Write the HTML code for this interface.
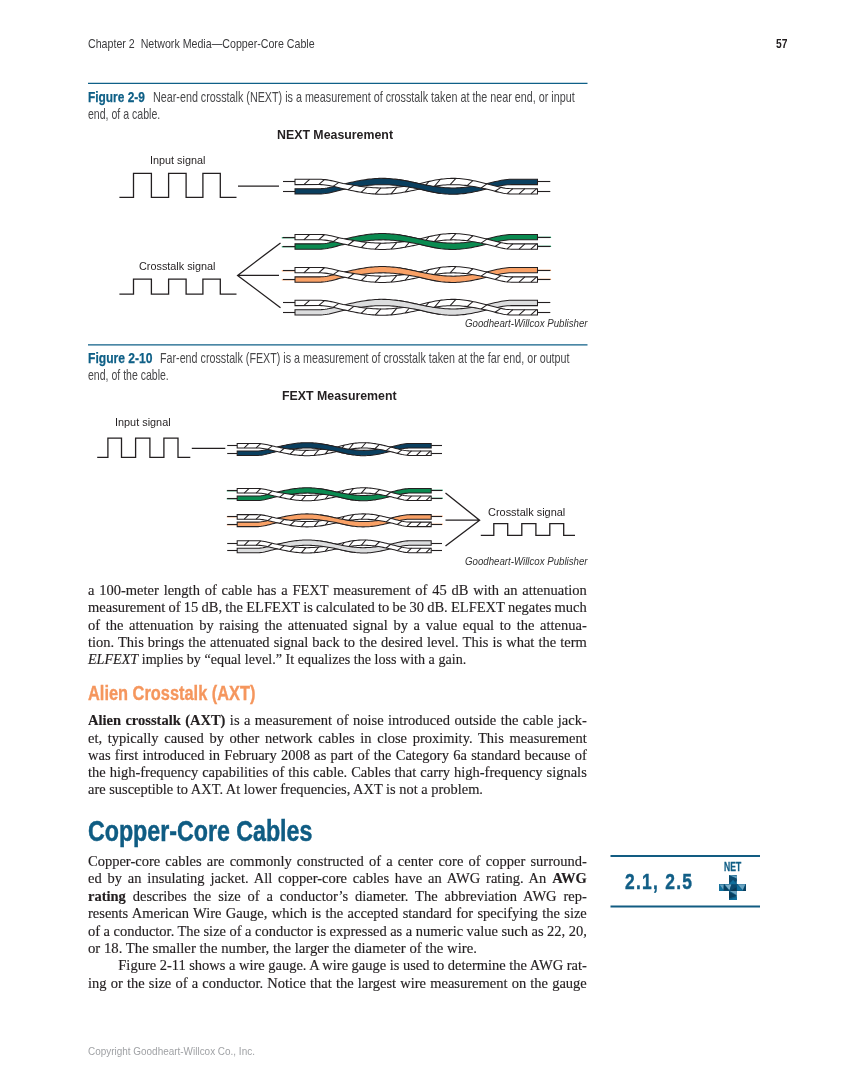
<!DOCTYPE html>
<html lang="en"><head><meta charset="utf-8"><title>Chapter 2 Network Media—Copper-Core Cable</title>
<style>
html,body{margin:0;padding:0;background:#fff}
#txt{position:absolute;left:0;top:0;width:849px;height:1087px;opacity:0.999;will-change:opacity}
#page{position:relative;width:849px;height:1087px;overflow:hidden;background:#fff}
.ln{position:absolute;white-space:nowrap;transform-origin:0 0;line-height:1;font-family:"Liberation Sans",sans-serif;color:#3a3a3c}
.hdr{font-size:12.8px;color:#3a3a3c}
.pg{font-size:12.6px;font-weight:bold;color:#231f20}
.cap{font-size:14.8px;color:#48484a}
.cap b{color:#0e5f86;-webkit-text-stroke:0.25px #0e5f86}
.ttl{font-size:12.6px;font-weight:bold;color:#231f20}
.lbl{font-size:11px;color:#231f20}
.cred{font-size:10px;font-style:italic;color:#333}
.body{font-family:"Liberation Serif",serif;font-size:14.5px;color:#231f20;-webkit-text-stroke:0.15px #231f20}
.h3{font-size:19.6px;font-weight:bold;color:#f5965d;-webkit-text-stroke:0.35px #f5965d}
.h2{font-size:29.5px;font-weight:bold;color:#0f5c83;-webkit-text-stroke:0.5px #0f5c83}
.std{font-size:22px;font-weight:bold;color:#115e86;letter-spacing:1.6px;-webkit-text-stroke:0.45px #115e86}
.net{font-size:12px;font-weight:bold;color:#115e86;-webkit-text-stroke:0.3px #115e86}
.copy{font-size:10px;color:#a0a2a5}
</style></head>
<body><div id="page">
<svg width="849" height="1087" viewBox="0 0 849 1087" style="position:absolute;left:0;top:0">
<path d="M119.4,197.3 H133.5 V173.3 H151.4 V197.3 H168.6 V173.3 H186.1 V197.3 H202.9 V173.3 H220.3 V197.3 H236.5" fill="none" stroke="#231f20" stroke-width="1.3" stroke-linejoin="miter"/>
<path d="M119.4,294.2 H133.5 V279.2 H151.4 V294.2 H168.6 V279.2 H186.1 V294.2 H202.9 V279.2 H220.3 V294.2 H236.5" fill="none" stroke="#231f20" stroke-width="1.3" stroke-linejoin="miter"/>
<path d="M238,186.1 H279" stroke="#231f20" stroke-width="1.3" fill="none"/>
<path d="M280.5,242.9 L237.6,275.4 L280.5,307.8 M237.6,275.4 H279" stroke="#231f20" stroke-width="1.3" fill="none" stroke-linejoin="miter"/>
<line x1="283.00" y1="181.50" x2="295.00" y2="181.50" stroke="#231f20" stroke-width="1.1"/>
<line x1="283.00" y1="191.50" x2="295.00" y2="191.50" stroke="#231f20" stroke-width="1.1"/>
<line x1="537.50" y1="181.50" x2="550.30" y2="181.50" stroke="#231f20" stroke-width="1.1"/>
<line x1="537.50" y1="191.50" x2="550.30" y2="191.50" stroke="#231f20" stroke-width="1.1"/>
<polygon points="295.0,188.65 320.0,188.65 321.1,188.63 323.1,188.51 325.1,188.29 327.1,187.98 329.1,187.60 331.1,187.15 333.1,186.67 335.1,186.16 337.1,185.63 339.1,185.11 341.1,184.60 343.1,184.12 345.1,183.68 347.1,183.23 349.1,182.78 351.1,182.33 353.1,181.90 355.1,181.48 357.1,181.08 359.1,180.69 361.1,180.33 363.1,179.99 365.1,179.68 367.1,179.39 369.2,179.14 371.2,178.92 373.2,178.73 375.2,178.58 377.2,178.47 379.2,178.39 381.2,178.35 383.2,178.35 385.2,178.39 387.2,178.47 389.2,178.58 391.2,178.73 393.2,178.92 395.2,179.14 397.2,179.39 399.2,179.67 401.2,179.98 403.2,180.32 405.2,180.68 407.2,181.07 409.2,181.47 411.2,181.89 413.2,182.33 415.2,182.77 417.3,183.22 419.3,183.67 421.3,184.08 423.3,184.47 425.3,184.86 427.3,185.24 429.3,185.60 431.3,185.95 433.3,186.27 435.3,186.58 437.3,186.86 439.3,187.11 441.3,187.33 443.3,187.52 445.3,187.68 447.3,187.80 449.3,187.89 451.3,187.94 453.3,187.95 455.3,187.92 457.3,187.86 459.3,187.76 461.3,187.63 463.3,187.46 465.4,187.25 467.4,187.02 469.4,186.76 471.4,186.47 473.4,186.15 475.4,185.82 477.4,185.46 479.4,185.09 481.4,184.71 483.4,184.32 485.4,183.93 487.4,183.50 489.4,183.04 491.4,182.56 493.4,182.08 495.4,181.60 497.4,181.15 499.4,180.72 501.4,180.33 503.4,179.99 505.4,179.70 507.4,179.49 509.4,179.35 511.4,179.30 511.5,179.30 537.5,179.30 537.5,184.60 511.5,184.60 511.4,184.60 509.4,184.65 507.4,184.79 505.4,185.00 503.4,185.29 501.4,185.63 499.4,186.02 497.4,186.45 495.4,186.90 493.4,187.38 491.4,187.86 489.4,188.34 487.4,188.80 485.4,189.27 483.4,189.76 481.4,190.24 479.4,190.71 477.4,191.17 475.4,191.61 473.4,192.03 471.4,192.41 469.4,192.77 467.4,193.10 465.4,193.39 463.3,193.64 461.3,193.85 459.3,194.02 457.3,194.14 455.3,194.22 453.3,194.25 451.3,194.23 449.3,194.17 447.3,194.07 445.3,193.92 443.3,193.72 441.3,193.49 439.3,193.21 437.3,192.90 435.3,192.55 433.3,192.17 431.3,191.77 429.3,191.34 427.3,190.89 425.3,190.42 423.3,189.94 421.3,189.46 419.3,188.99 417.3,188.62 415.2,188.25 413.2,187.89 411.2,187.54 409.2,187.19 407.2,186.87 405.2,186.55 403.2,186.26 401.2,185.98 399.2,185.73 397.2,185.50 395.2,185.29 393.2,185.11 391.2,184.96 389.2,184.84 387.2,184.75 385.2,184.68 383.2,184.65 381.2,184.65 379.2,184.69 377.2,184.75 375.2,184.84 373.2,184.96 371.2,185.11 369.2,185.29 367.1,185.50 365.1,185.73 363.1,185.99 361.1,186.26 359.1,186.56 357.1,186.87 355.1,187.20 353.1,187.54 351.1,187.90 349.1,188.26 347.1,188.62 345.1,188.99 343.1,189.42 341.1,189.90 339.1,190.41 337.1,190.93 335.1,191.46 333.1,191.97 331.1,192.45 329.1,192.90 327.1,193.28 325.1,193.59 323.1,193.81 321.1,193.93 320.0,193.95 295.0,193.95" fill="#0a3f5f" stroke="#231f20" stroke-width="1.05" stroke-linejoin="miter"/>
<polygon points="295.0,179.30 320.0,179.30 321.1,179.31 323.1,179.42 325.1,179.62 327.1,179.89 329.1,180.23 331.1,180.63 333.1,181.06 335.1,181.53 337.1,182.00 339.1,182.48 341.1,182.95 343.1,183.40 345.1,183.80 347.1,184.16 349.1,184.51 351.1,184.85 353.1,185.19 355.1,185.51 357.1,185.83 359.1,186.13 361.1,186.41 363.1,186.67 365.1,186.92 367.1,187.14 369.2,187.34 371.2,187.51 373.2,187.65 375.2,187.77 377.2,187.86 379.2,187.92 381.2,187.95 383.2,187.95 385.2,187.92 387.2,187.86 389.2,187.77 391.2,187.65 393.2,187.51 395.2,187.34 397.2,187.14 399.2,186.92 401.2,186.68 403.2,186.42 405.2,186.13 407.2,185.84 409.2,185.52 411.2,185.19 413.2,184.86 415.2,184.51 417.3,184.16 419.3,183.81 421.3,183.33 423.3,182.82 425.3,182.33 427.3,181.84 429.3,181.37 431.3,180.93 433.3,180.51 435.3,180.11 437.3,179.75 439.3,179.43 441.3,179.14 443.3,178.90 445.3,178.70 447.3,178.54 449.3,178.43 451.3,178.37 453.3,178.35 455.3,178.38 457.3,178.46 459.3,178.59 461.3,178.77 463.3,178.98 465.4,179.25 467.4,179.55 469.4,179.88 471.4,180.26 473.4,180.66 475.4,181.09 477.4,181.55 479.4,182.02 481.4,182.51 483.4,183.01 485.4,183.52 487.4,184.01 489.4,184.50 491.4,185.02 493.4,185.55 495.4,186.07 497.4,186.57 499.4,187.05 501.4,187.48 503.4,187.87 505.4,188.19 507.4,188.44 509.4,188.59 511.4,188.65 511.5,188.65 537.5,188.65 537.5,193.95 511.5,193.95 511.4,193.95 509.4,193.89 507.4,193.74 505.4,193.49 503.4,193.17 501.4,192.78 499.4,192.35 497.4,191.87 495.4,191.37 493.4,190.85 491.4,190.32 489.4,189.80 487.4,189.31 485.4,188.86 483.4,188.45 481.4,188.04 479.4,187.64 477.4,187.25 475.4,186.88 473.4,186.53 471.4,186.20 469.4,185.90 467.4,185.62 465.4,185.38 463.3,185.17 461.3,184.99 459.3,184.85 457.3,184.74 455.3,184.68 453.3,184.65 451.3,184.66 449.3,184.71 447.3,184.80 445.3,184.93 443.3,185.10 441.3,185.30 439.3,185.53 437.3,185.79 435.3,186.09 433.3,186.41 431.3,186.75 429.3,187.11 427.3,187.49 425.3,187.89 423.3,188.29 421.3,188.71 419.3,189.13 417.3,189.56 415.2,190.00 413.2,190.42 411.2,190.84 409.2,191.24 407.2,191.63 405.2,192.00 403.2,192.35 401.2,192.68 399.2,192.98 397.2,193.25 395.2,193.49 393.2,193.70 391.2,193.88 389.2,194.03 387.2,194.14 385.2,194.21 383.2,194.25 381.2,194.25 379.2,194.21 377.2,194.13 375.2,194.02 373.2,193.88 371.2,193.70 369.2,193.49 367.1,193.25 365.1,192.97 363.1,192.67 361.1,192.34 359.1,191.99 357.1,191.62 355.1,191.23 353.1,190.83 351.1,190.41 349.1,189.99 347.1,189.55 345.1,189.12 343.1,188.70 341.1,188.25 339.1,187.78 337.1,187.30 335.1,186.83 333.1,186.36 331.1,185.93 329.1,185.53 327.1,185.19 325.1,184.92 323.1,184.72 321.1,184.61 320.0,184.60 295.0,184.60" fill="#fff" stroke="#231f20" stroke-width="1.05" stroke-linejoin="miter"/>
<path d="M303.8,184.60L309.6,179.30M318.6,184.60L324.4,179.54M333.1,186.37L338.9,182.44M348.1,189.77L353.9,185.32M361.1,192.34L366.9,187.11M375.1,194.02L380.9,187.94M391.1,193.89L396.9,187.17M405.1,192.02L410.9,185.25M423.1,188.33L428.9,181.46M434.6,186.19L440.4,179.27M450.1,184.69L455.9,178.40M467.1,185.59L472.9,180.56M481.1,187.98L486.9,183.89M495.1,191.29L500.9,187.37M507.1,193.70L512.9,188.65M519.1,193.95L524.9,188.65M530.9,193.95L536.7,188.65" stroke="#231f20" stroke-width="1.05" fill="none"/>
<polygon points="398.6,179.58 400.6,179.88 402.6,180.21 404.6,180.57 406.6,180.95 408.6,181.34 410.6,181.76 412.6,182.19 414.6,182.62 416.6,183.07 418.6,183.52 420.6,183.95 422.6,184.34 424.6,184.73 426.6,185.11 428.6,185.48 430.6,185.83 432.6,186.16 434.6,186.48 436.6,186.76 438.6,187.03 440.6,187.26 440.6,193.39 438.6,193.11 436.6,192.78 434.6,192.43 432.6,192.04 430.6,191.63 428.6,191.19 426.6,190.73 424.6,190.26 422.6,189.78 420.6,189.29 418.6,188.87 416.6,188.50 414.6,188.13 412.6,187.77 410.6,187.43 408.6,187.09 406.6,186.77 404.6,186.46 402.6,186.17 400.6,185.90 398.6,185.65" fill="#0a3f5f"/>
<polyline points="398.6,179.58 400.6,179.88 402.6,180.21 404.6,180.57 406.6,180.95 408.6,181.34 410.6,181.76 412.6,182.19 414.6,182.62 416.6,183.07 418.6,183.52 420.6,183.95 422.6,184.34 424.6,184.73 426.6,185.11 428.6,185.48 430.6,185.83 432.6,186.16 434.6,186.48 436.6,186.76 438.6,187.03 440.6,187.26" fill="none" stroke="#231f20" stroke-width="1.05"/>
<polyline points="398.6,185.65 400.6,185.90 402.6,186.17 404.6,186.46 406.6,186.77 408.6,187.09 410.6,187.43 412.6,187.77 414.6,188.13 416.6,188.50 418.6,188.87 420.6,189.29 422.6,189.78 424.6,190.26 426.6,190.73 428.6,191.19 430.6,191.63 432.6,192.04 434.6,192.43 436.6,192.78 438.6,193.11 440.6,193.39" fill="none" stroke="#231f20" stroke-width="1.05"/>
<line x1="281.80" y1="237.75" x2="295.00" y2="237.75" stroke="#0a8a50" stroke-width="1.2"/>
<line x1="283.00" y1="237.50" x2="295.00" y2="237.50" stroke="#231f20" stroke-width="1.1"/>
<line x1="281.80" y1="246.75" x2="295.00" y2="246.75" stroke="#0a8a50" stroke-width="1.2"/>
<line x1="283.00" y1="246.50" x2="295.00" y2="246.50" stroke="#231f20" stroke-width="1.1"/>
<line x1="537.50" y1="237.30" x2="551.10" y2="237.30" stroke="#0a8a50" stroke-width="1.2"/>
<line x1="537.50" y1="237.50" x2="550.30" y2="237.50" stroke="#231f20" stroke-width="1.1"/>
<line x1="537.50" y1="246.30" x2="551.10" y2="246.30" stroke="#0a8a50" stroke-width="1.2"/>
<line x1="537.50" y1="246.50" x2="550.30" y2="246.50" stroke="#231f20" stroke-width="1.1"/>
<polygon points="295.0,243.85 320.0,243.85 321.1,243.83 323.1,243.71 325.1,243.49 327.1,243.18 329.1,242.80 331.1,242.35 333.1,241.87 335.1,241.36 337.1,240.83 339.1,240.31 341.1,239.80 343.1,239.32 345.1,238.88 347.1,238.43 349.1,237.98 351.1,237.53 353.1,237.10 355.1,236.68 357.1,236.28 359.1,235.89 361.1,235.53 363.1,235.19 365.1,234.88 367.1,234.59 369.2,234.34 371.2,234.12 373.2,233.93 375.2,233.78 377.2,233.67 379.2,233.59 381.2,233.55 383.2,233.55 385.2,233.59 387.2,233.67 389.2,233.78 391.2,233.93 393.2,234.12 395.2,234.34 397.2,234.59 399.2,234.87 401.2,235.18 403.2,235.52 405.2,235.88 407.2,236.27 409.2,236.67 411.2,237.09 413.2,237.53 415.2,237.97 417.3,238.42 419.3,238.87 421.3,239.28 423.3,239.67 425.3,240.06 427.3,240.44 429.3,240.80 431.3,241.15 433.3,241.47 435.3,241.78 437.3,242.06 439.3,242.31 441.3,242.53 443.3,242.72 445.3,242.88 447.3,243.00 449.3,243.09 451.3,243.14 453.3,243.15 455.3,243.12 457.3,243.06 459.3,242.96 461.3,242.83 463.3,242.66 465.4,242.45 467.4,242.22 469.4,241.96 471.4,241.67 473.4,241.35 475.4,241.02 477.4,240.66 479.4,240.29 481.4,239.91 483.4,239.52 485.4,239.13 487.4,238.70 489.4,238.24 491.4,237.76 493.4,237.28 495.4,236.80 497.4,236.35 499.4,235.92 501.4,235.53 503.4,235.19 505.4,234.90 507.4,234.69 509.4,234.55 511.4,234.50 511.5,234.50 537.5,234.50 537.5,239.80 511.5,239.80 511.4,239.80 509.4,239.85 507.4,239.99 505.4,240.20 503.4,240.49 501.4,240.83 499.4,241.22 497.4,241.65 495.4,242.10 493.4,242.58 491.4,243.06 489.4,243.54 487.4,244.00 485.4,244.47 483.4,244.96 481.4,245.44 479.4,245.91 477.4,246.37 475.4,246.81 473.4,247.23 471.4,247.61 469.4,247.97 467.4,248.30 465.4,248.59 463.3,248.84 461.3,249.05 459.3,249.22 457.3,249.34 455.3,249.42 453.3,249.45 451.3,249.43 449.3,249.37 447.3,249.27 445.3,249.12 443.3,248.92 441.3,248.69 439.3,248.41 437.3,248.10 435.3,247.75 433.3,247.37 431.3,246.97 429.3,246.54 427.3,246.09 425.3,245.62 423.3,245.14 421.3,244.66 419.3,244.19 417.3,243.82 415.2,243.45 413.2,243.09 411.2,242.74 409.2,242.39 407.2,242.07 405.2,241.75 403.2,241.46 401.2,241.18 399.2,240.93 397.2,240.70 395.2,240.49 393.2,240.31 391.2,240.16 389.2,240.04 387.2,239.95 385.2,239.88 383.2,239.85 381.2,239.85 379.2,239.89 377.2,239.95 375.2,240.04 373.2,240.16 371.2,240.31 369.2,240.49 367.1,240.70 365.1,240.93 363.1,241.19 361.1,241.46 359.1,241.76 357.1,242.07 355.1,242.40 353.1,242.74 351.1,243.10 349.1,243.46 347.1,243.82 345.1,244.19 343.1,244.62 341.1,245.10 339.1,245.61 337.1,246.13 335.1,246.66 333.1,247.17 331.1,247.65 329.1,248.10 327.1,248.48 325.1,248.79 323.1,249.01 321.1,249.13 320.0,249.15 295.0,249.15" fill="#0a8a50" stroke="#231f20" stroke-width="1.05" stroke-linejoin="miter"/>
<polygon points="295.0,234.50 320.0,234.50 321.1,234.51 323.1,234.62 325.1,234.82 327.1,235.09 329.1,235.43 331.1,235.83 333.1,236.26 335.1,236.73 337.1,237.20 339.1,237.68 341.1,238.15 343.1,238.60 345.1,239.00 347.1,239.36 349.1,239.71 351.1,240.05 353.1,240.39 355.1,240.71 357.1,241.03 359.1,241.33 361.1,241.61 363.1,241.87 365.1,242.12 367.1,242.34 369.2,242.54 371.2,242.71 373.2,242.85 375.2,242.97 377.2,243.06 379.2,243.12 381.2,243.15 383.2,243.15 385.2,243.12 387.2,243.06 389.2,242.97 391.2,242.85 393.2,242.71 395.2,242.54 397.2,242.34 399.2,242.12 401.2,241.88 403.2,241.62 405.2,241.33 407.2,241.04 409.2,240.72 411.2,240.39 413.2,240.06 415.2,239.71 417.3,239.36 419.3,239.01 421.3,238.53 423.3,238.02 425.3,237.53 427.3,237.04 429.3,236.57 431.3,236.13 433.3,235.71 435.3,235.31 437.3,234.95 439.3,234.63 441.3,234.34 443.3,234.10 445.3,233.90 447.3,233.74 449.3,233.63 451.3,233.57 453.3,233.55 455.3,233.58 457.3,233.66 459.3,233.79 461.3,233.97 463.3,234.18 465.4,234.45 467.4,234.75 469.4,235.08 471.4,235.46 473.4,235.86 475.4,236.29 477.4,236.75 479.4,237.22 481.4,237.71 483.4,238.21 485.4,238.72 487.4,239.21 489.4,239.70 491.4,240.22 493.4,240.75 495.4,241.27 497.4,241.77 499.4,242.25 501.4,242.68 503.4,243.07 505.4,243.39 507.4,243.64 509.4,243.79 511.4,243.85 511.5,243.85 537.5,243.85 537.5,249.15 511.5,249.15 511.4,249.15 509.4,249.09 507.4,248.94 505.4,248.69 503.4,248.37 501.4,247.98 499.4,247.55 497.4,247.07 495.4,246.57 493.4,246.05 491.4,245.52 489.4,245.00 487.4,244.51 485.4,244.06 483.4,243.65 481.4,243.24 479.4,242.84 477.4,242.45 475.4,242.08 473.4,241.73 471.4,241.40 469.4,241.10 467.4,240.82 465.4,240.58 463.3,240.37 461.3,240.19 459.3,240.05 457.3,239.94 455.3,239.88 453.3,239.85 451.3,239.86 449.3,239.91 447.3,240.00 445.3,240.13 443.3,240.30 441.3,240.50 439.3,240.73 437.3,240.99 435.3,241.29 433.3,241.61 431.3,241.95 429.3,242.31 427.3,242.69 425.3,243.09 423.3,243.49 421.3,243.91 419.3,244.33 417.3,244.76 415.2,245.20 413.2,245.62 411.2,246.04 409.2,246.44 407.2,246.83 405.2,247.20 403.2,247.55 401.2,247.88 399.2,248.18 397.2,248.45 395.2,248.69 393.2,248.90 391.2,249.08 389.2,249.23 387.2,249.34 385.2,249.41 383.2,249.45 381.2,249.45 379.2,249.41 377.2,249.33 375.2,249.22 373.2,249.08 371.2,248.90 369.2,248.69 367.1,248.45 365.1,248.17 363.1,247.87 361.1,247.54 359.1,247.19 357.1,246.82 355.1,246.43 353.1,246.03 351.1,245.61 349.1,245.19 347.1,244.75 345.1,244.32 343.1,243.90 341.1,243.45 339.1,242.98 337.1,242.50 335.1,242.03 333.1,241.56 331.1,241.13 329.1,240.73 327.1,240.39 325.1,240.12 323.1,239.92 321.1,239.81 320.0,239.80 295.0,239.80" fill="#fff" stroke="#231f20" stroke-width="1.05" stroke-linejoin="miter"/>
<path d="M303.8,239.80L309.6,234.50M318.6,239.80L324.4,234.74M333.1,241.57L338.9,237.64M348.1,244.97L353.9,240.52M361.1,247.54L366.9,242.31M375.1,249.22L380.9,243.14M391.1,249.09L396.9,242.37M405.1,247.22L410.9,240.45M423.1,243.53L428.9,236.66M434.6,241.39L440.4,234.47M450.1,239.89L455.9,233.60M467.1,240.79L472.9,235.76M481.1,243.18L486.9,239.09M495.1,246.49L500.9,242.57M507.1,248.90L512.9,243.85M519.1,249.15L524.9,243.85M530.9,249.15L536.7,243.85" stroke="#231f20" stroke-width="1.05" fill="none"/>
<polygon points="398.6,234.78 400.6,235.08 402.6,235.41 404.6,235.77 406.6,236.15 408.6,236.54 410.6,236.96 412.6,237.39 414.6,237.82 416.6,238.27 418.6,238.72 420.6,239.15 422.6,239.54 424.6,239.93 426.6,240.31 428.6,240.68 430.6,241.03 432.6,241.36 434.6,241.68 436.6,241.96 438.6,242.23 440.6,242.46 440.6,248.59 438.6,248.31 436.6,247.98 434.6,247.63 432.6,247.24 430.6,246.83 428.6,246.39 426.6,245.93 424.6,245.46 422.6,244.98 420.6,244.49 418.6,244.07 416.6,243.70 414.6,243.33 412.6,242.97 410.6,242.63 408.6,242.29 406.6,241.97 404.6,241.66 402.6,241.37 400.6,241.10 398.6,240.85" fill="#0a8a50"/>
<polyline points="398.6,234.78 400.6,235.08 402.6,235.41 404.6,235.77 406.6,236.15 408.6,236.54 410.6,236.96 412.6,237.39 414.6,237.82 416.6,238.27 418.6,238.72 420.6,239.15 422.6,239.54 424.6,239.93 426.6,240.31 428.6,240.68 430.6,241.03 432.6,241.36 434.6,241.68 436.6,241.96 438.6,242.23 440.6,242.46" fill="none" stroke="#231f20" stroke-width="1.05"/>
<polyline points="398.6,240.85 400.6,241.10 402.6,241.37 404.6,241.66 406.6,241.97 408.6,242.29 410.6,242.63 412.6,242.97 414.6,243.33 416.6,243.70 418.6,244.07 420.6,244.49 422.6,244.98 424.6,245.46 426.6,245.93 428.6,246.39 430.6,246.83 432.6,247.24 434.6,247.63 436.6,247.98 438.6,248.31 440.6,248.59" fill="none" stroke="#231f20" stroke-width="1.05"/>
<line x1="281.80" y1="270.75" x2="295.00" y2="270.75" stroke="#f9a166" stroke-width="1.2"/>
<line x1="283.00" y1="270.50" x2="295.00" y2="270.50" stroke="#231f20" stroke-width="1.1"/>
<line x1="281.80" y1="279.75" x2="295.00" y2="279.75" stroke="#f9a166" stroke-width="1.2"/>
<line x1="283.00" y1="279.50" x2="295.00" y2="279.50" stroke="#231f20" stroke-width="1.1"/>
<line x1="537.50" y1="270.30" x2="551.10" y2="270.30" stroke="#f9a166" stroke-width="1.2"/>
<line x1="537.50" y1="270.50" x2="550.30" y2="270.50" stroke="#231f20" stroke-width="1.1"/>
<line x1="537.50" y1="279.30" x2="551.10" y2="279.30" stroke="#f9a166" stroke-width="1.2"/>
<line x1="537.50" y1="279.50" x2="550.30" y2="279.50" stroke="#231f20" stroke-width="1.1"/>
<polygon points="295.0,276.85 320.0,276.85 321.1,276.83 323.1,276.71 325.1,276.49 327.1,276.18 329.1,275.80 331.1,275.35 333.1,274.87 335.1,274.36 337.1,273.83 339.1,273.31 341.1,272.80 343.1,272.32 345.1,271.88 347.1,271.43 349.1,270.98 351.1,270.53 353.1,270.10 355.1,269.68 357.1,269.28 359.1,268.89 361.1,268.53 363.1,268.19 365.1,267.88 367.1,267.59 369.2,267.34 371.2,267.12 373.2,266.93 375.2,266.78 377.2,266.67 379.2,266.59 381.2,266.55 383.2,266.55 385.2,266.59 387.2,266.67 389.2,266.78 391.2,266.93 393.2,267.12 395.2,267.34 397.2,267.59 399.2,267.87 401.2,268.18 403.2,268.52 405.2,268.88 407.2,269.27 409.2,269.67 411.2,270.09 413.2,270.53 415.2,270.97 417.3,271.42 419.3,271.87 421.3,272.28 423.3,272.67 425.3,273.06 427.3,273.44 429.3,273.80 431.3,274.15 433.3,274.47 435.3,274.78 437.3,275.06 439.3,275.31 441.3,275.53 443.3,275.72 445.3,275.88 447.3,276.00 449.3,276.09 451.3,276.14 453.3,276.15 455.3,276.12 457.3,276.06 459.3,275.96 461.3,275.83 463.3,275.66 465.4,275.45 467.4,275.22 469.4,274.96 471.4,274.67 473.4,274.35 475.4,274.02 477.4,273.66 479.4,273.29 481.4,272.91 483.4,272.52 485.4,272.13 487.4,271.70 489.4,271.24 491.4,270.76 493.4,270.28 495.4,269.80 497.4,269.35 499.4,268.92 501.4,268.53 503.4,268.19 505.4,267.90 507.4,267.69 509.4,267.55 511.4,267.50 511.5,267.50 537.5,267.50 537.5,272.80 511.5,272.80 511.4,272.80 509.4,272.85 507.4,272.99 505.4,273.20 503.4,273.49 501.4,273.83 499.4,274.22 497.4,274.65 495.4,275.10 493.4,275.58 491.4,276.06 489.4,276.54 487.4,277.00 485.4,277.47 483.4,277.96 481.4,278.44 479.4,278.91 477.4,279.37 475.4,279.81 473.4,280.23 471.4,280.61 469.4,280.97 467.4,281.30 465.4,281.59 463.3,281.84 461.3,282.05 459.3,282.22 457.3,282.34 455.3,282.42 453.3,282.45 451.3,282.43 449.3,282.37 447.3,282.27 445.3,282.12 443.3,281.92 441.3,281.69 439.3,281.41 437.3,281.10 435.3,280.75 433.3,280.37 431.3,279.97 429.3,279.54 427.3,279.09 425.3,278.62 423.3,278.14 421.3,277.66 419.3,277.19 417.3,276.82 415.2,276.45 413.2,276.09 411.2,275.74 409.2,275.39 407.2,275.07 405.2,274.75 403.2,274.46 401.2,274.18 399.2,273.93 397.2,273.70 395.2,273.49 393.2,273.31 391.2,273.16 389.2,273.04 387.2,272.95 385.2,272.88 383.2,272.85 381.2,272.85 379.2,272.89 377.2,272.95 375.2,273.04 373.2,273.16 371.2,273.31 369.2,273.49 367.1,273.70 365.1,273.93 363.1,274.19 361.1,274.46 359.1,274.76 357.1,275.07 355.1,275.40 353.1,275.74 351.1,276.10 349.1,276.46 347.1,276.82 345.1,277.19 343.1,277.62 341.1,278.10 339.1,278.61 337.1,279.13 335.1,279.66 333.1,280.17 331.1,280.65 329.1,281.10 327.1,281.48 325.1,281.79 323.1,282.01 321.1,282.13 320.0,282.15 295.0,282.15" fill="#f9a166" stroke="#231f20" stroke-width="1.05" stroke-linejoin="miter"/>
<polygon points="295.0,267.50 320.0,267.50 321.1,267.51 323.1,267.62 325.1,267.82 327.1,268.09 329.1,268.43 331.1,268.83 333.1,269.26 335.1,269.73 337.1,270.20 339.1,270.68 341.1,271.15 343.1,271.60 345.1,272.00 347.1,272.36 349.1,272.71 351.1,273.05 353.1,273.39 355.1,273.71 357.1,274.03 359.1,274.33 361.1,274.61 363.1,274.87 365.1,275.12 367.1,275.34 369.2,275.54 371.2,275.71 373.2,275.85 375.2,275.97 377.2,276.06 379.2,276.12 381.2,276.15 383.2,276.15 385.2,276.12 387.2,276.06 389.2,275.97 391.2,275.85 393.2,275.71 395.2,275.54 397.2,275.34 399.2,275.12 401.2,274.88 403.2,274.62 405.2,274.33 407.2,274.04 409.2,273.72 411.2,273.39 413.2,273.06 415.2,272.71 417.3,272.36 419.3,272.01 421.3,271.53 423.3,271.02 425.3,270.53 427.3,270.04 429.3,269.57 431.3,269.13 433.3,268.71 435.3,268.31 437.3,267.95 439.3,267.63 441.3,267.34 443.3,267.10 445.3,266.90 447.3,266.74 449.3,266.63 451.3,266.57 453.3,266.55 455.3,266.58 457.3,266.66 459.3,266.79 461.3,266.97 463.3,267.18 465.4,267.45 467.4,267.75 469.4,268.08 471.4,268.46 473.4,268.86 475.4,269.29 477.4,269.75 479.4,270.22 481.4,270.71 483.4,271.21 485.4,271.72 487.4,272.21 489.4,272.70 491.4,273.22 493.4,273.75 495.4,274.27 497.4,274.77 499.4,275.25 501.4,275.68 503.4,276.07 505.4,276.39 507.4,276.64 509.4,276.79 511.4,276.85 511.5,276.85 537.5,276.85 537.5,282.15 511.5,282.15 511.4,282.15 509.4,282.09 507.4,281.94 505.4,281.69 503.4,281.37 501.4,280.98 499.4,280.55 497.4,280.07 495.4,279.57 493.4,279.05 491.4,278.52 489.4,278.00 487.4,277.51 485.4,277.06 483.4,276.65 481.4,276.24 479.4,275.84 477.4,275.45 475.4,275.08 473.4,274.73 471.4,274.40 469.4,274.10 467.4,273.82 465.4,273.58 463.3,273.37 461.3,273.19 459.3,273.05 457.3,272.94 455.3,272.88 453.3,272.85 451.3,272.86 449.3,272.91 447.3,273.00 445.3,273.13 443.3,273.30 441.3,273.50 439.3,273.73 437.3,273.99 435.3,274.29 433.3,274.61 431.3,274.95 429.3,275.31 427.3,275.69 425.3,276.09 423.3,276.49 421.3,276.91 419.3,277.33 417.3,277.76 415.2,278.20 413.2,278.62 411.2,279.04 409.2,279.44 407.2,279.83 405.2,280.20 403.2,280.55 401.2,280.88 399.2,281.18 397.2,281.45 395.2,281.69 393.2,281.90 391.2,282.08 389.2,282.23 387.2,282.34 385.2,282.41 383.2,282.45 381.2,282.45 379.2,282.41 377.2,282.33 375.2,282.22 373.2,282.08 371.2,281.90 369.2,281.69 367.1,281.45 365.1,281.17 363.1,280.87 361.1,280.54 359.1,280.19 357.1,279.82 355.1,279.43 353.1,279.03 351.1,278.61 349.1,278.19 347.1,277.75 345.1,277.32 343.1,276.90 341.1,276.45 339.1,275.98 337.1,275.50 335.1,275.03 333.1,274.56 331.1,274.13 329.1,273.73 327.1,273.39 325.1,273.12 323.1,272.92 321.1,272.81 320.0,272.80 295.0,272.80" fill="#fff" stroke="#231f20" stroke-width="1.05" stroke-linejoin="miter"/>
<path d="M303.8,272.80L309.6,267.50M318.6,272.80L324.4,267.74M333.1,274.57L338.9,270.64M348.1,277.97L353.9,273.52M361.1,280.54L366.9,275.31M375.1,282.22L380.9,276.14M391.1,282.09L396.9,275.37M405.1,280.22L410.9,273.45M423.1,276.53L428.9,269.66M434.6,274.39L440.4,267.47M450.1,272.89L455.9,266.60M467.1,273.79L472.9,268.76M481.1,276.18L486.9,272.09M495.1,279.49L500.9,275.57M507.1,281.90L512.9,276.85M519.1,282.15L524.9,276.85M530.9,282.15L536.7,276.85" stroke="#231f20" stroke-width="1.05" fill="none"/>
<polygon points="398.6,267.78 400.6,268.08 402.6,268.41 404.6,268.77 406.6,269.15 408.6,269.54 410.6,269.96 412.6,270.39 414.6,270.82 416.6,271.27 418.6,271.72 420.6,272.15 422.6,272.54 424.6,272.93 426.6,273.31 428.6,273.68 430.6,274.03 432.6,274.36 434.6,274.68 436.6,274.96 438.6,275.23 440.6,275.46 440.6,281.59 438.6,281.31 436.6,280.98 434.6,280.63 432.6,280.24 430.6,279.83 428.6,279.39 426.6,278.93 424.6,278.46 422.6,277.98 420.6,277.49 418.6,277.07 416.6,276.70 414.6,276.33 412.6,275.97 410.6,275.63 408.6,275.29 406.6,274.97 404.6,274.66 402.6,274.37 400.6,274.10 398.6,273.85" fill="#f9a166"/>
<polyline points="398.6,267.78 400.6,268.08 402.6,268.41 404.6,268.77 406.6,269.15 408.6,269.54 410.6,269.96 412.6,270.39 414.6,270.82 416.6,271.27 418.6,271.72 420.6,272.15 422.6,272.54 424.6,272.93 426.6,273.31 428.6,273.68 430.6,274.03 432.6,274.36 434.6,274.68 436.6,274.96 438.6,275.23 440.6,275.46" fill="none" stroke="#231f20" stroke-width="1.05"/>
<polyline points="398.6,273.85 400.6,274.10 402.6,274.37 404.6,274.66 406.6,274.97 408.6,275.29 410.6,275.63 412.6,275.97 414.6,276.33 416.6,276.70 418.6,277.07 420.6,277.49 422.6,277.98 424.6,278.46 426.6,278.93 428.6,279.39 430.6,279.83 432.6,280.24 434.6,280.63 436.6,280.98 438.6,281.31 440.6,281.59" fill="none" stroke="#231f20" stroke-width="1.05"/>
<line x1="283.00" y1="302.50" x2="295.00" y2="302.50" stroke="#231f20" stroke-width="1.1"/>
<line x1="283.00" y1="312.50" x2="295.00" y2="312.50" stroke="#231f20" stroke-width="1.1"/>
<line x1="537.50" y1="302.50" x2="550.30" y2="302.50" stroke="#231f20" stroke-width="1.1"/>
<line x1="537.50" y1="312.50" x2="550.30" y2="312.50" stroke="#231f20" stroke-width="1.1"/>
<polygon points="295.0,309.65 320.0,309.65 321.1,309.63 323.1,309.51 325.1,309.29 327.1,308.98 329.1,308.60 331.1,308.15 333.1,307.67 335.1,307.16 337.1,306.63 339.1,306.11 341.1,305.60 343.1,305.12 345.1,304.68 347.1,304.23 349.1,303.78 351.1,303.33 353.1,302.90 355.1,302.48 357.1,302.08 359.1,301.69 361.1,301.33 363.1,300.99 365.1,300.68 367.1,300.39 369.2,300.14 371.2,299.92 373.2,299.73 375.2,299.58 377.2,299.47 379.2,299.39 381.2,299.35 383.2,299.35 385.2,299.39 387.2,299.47 389.2,299.58 391.2,299.73 393.2,299.92 395.2,300.14 397.2,300.39 399.2,300.67 401.2,300.98 403.2,301.32 405.2,301.68 407.2,302.07 409.2,302.47 411.2,302.89 413.2,303.33 415.2,303.77 417.3,304.22 419.3,304.67 421.3,305.08 423.3,305.47 425.3,305.86 427.3,306.24 429.3,306.60 431.3,306.95 433.3,307.27 435.3,307.58 437.3,307.86 439.3,308.11 441.3,308.33 443.3,308.52 445.3,308.68 447.3,308.80 449.3,308.89 451.3,308.94 453.3,308.95 455.3,308.92 457.3,308.86 459.3,308.76 461.3,308.63 463.3,308.46 465.4,308.25 467.4,308.02 469.4,307.76 471.4,307.47 473.4,307.15 475.4,306.82 477.4,306.46 479.4,306.09 481.4,305.71 483.4,305.32 485.4,304.93 487.4,304.50 489.4,304.04 491.4,303.56 493.4,303.08 495.4,302.60 497.4,302.15 499.4,301.72 501.4,301.33 503.4,300.99 505.4,300.70 507.4,300.49 509.4,300.35 511.4,300.30 511.5,300.30 537.5,300.30 537.5,305.60 511.5,305.60 511.4,305.60 509.4,305.65 507.4,305.79 505.4,306.00 503.4,306.29 501.4,306.63 499.4,307.02 497.4,307.45 495.4,307.90 493.4,308.38 491.4,308.86 489.4,309.34 487.4,309.80 485.4,310.27 483.4,310.76 481.4,311.24 479.4,311.71 477.4,312.17 475.4,312.61 473.4,313.03 471.4,313.41 469.4,313.77 467.4,314.10 465.4,314.39 463.3,314.64 461.3,314.85 459.3,315.02 457.3,315.14 455.3,315.22 453.3,315.25 451.3,315.23 449.3,315.17 447.3,315.07 445.3,314.92 443.3,314.72 441.3,314.49 439.3,314.21 437.3,313.90 435.3,313.55 433.3,313.17 431.3,312.77 429.3,312.34 427.3,311.89 425.3,311.42 423.3,310.94 421.3,310.46 419.3,309.99 417.3,309.62 415.2,309.25 413.2,308.89 411.2,308.54 409.2,308.19 407.2,307.87 405.2,307.55 403.2,307.26 401.2,306.98 399.2,306.73 397.2,306.50 395.2,306.29 393.2,306.11 391.2,305.96 389.2,305.84 387.2,305.75 385.2,305.68 383.2,305.65 381.2,305.65 379.2,305.69 377.2,305.75 375.2,305.84 373.2,305.96 371.2,306.11 369.2,306.29 367.1,306.50 365.1,306.73 363.1,306.99 361.1,307.26 359.1,307.56 357.1,307.87 355.1,308.20 353.1,308.54 351.1,308.90 349.1,309.26 347.1,309.62 345.1,309.99 343.1,310.42 341.1,310.90 339.1,311.41 337.1,311.93 335.1,312.46 333.1,312.97 331.1,313.45 329.1,313.90 327.1,314.28 325.1,314.59 323.1,314.81 321.1,314.93 320.0,314.95 295.0,314.95" fill="#dcddde" stroke="#231f20" stroke-width="1.05" stroke-linejoin="miter"/>
<polygon points="295.0,300.30 320.0,300.30 321.1,300.31 323.1,300.42 325.1,300.62 327.1,300.89 329.1,301.23 331.1,301.63 333.1,302.06 335.1,302.53 337.1,303.00 339.1,303.48 341.1,303.95 343.1,304.40 345.1,304.80 347.1,305.16 349.1,305.51 351.1,305.85 353.1,306.19 355.1,306.51 357.1,306.83 359.1,307.13 361.1,307.41 363.1,307.67 365.1,307.92 367.1,308.14 369.2,308.34 371.2,308.51 373.2,308.65 375.2,308.77 377.2,308.86 379.2,308.92 381.2,308.95 383.2,308.95 385.2,308.92 387.2,308.86 389.2,308.77 391.2,308.65 393.2,308.51 395.2,308.34 397.2,308.14 399.2,307.92 401.2,307.68 403.2,307.42 405.2,307.13 407.2,306.84 409.2,306.52 411.2,306.19 413.2,305.86 415.2,305.51 417.3,305.16 419.3,304.81 421.3,304.33 423.3,303.82 425.3,303.33 427.3,302.84 429.3,302.37 431.3,301.93 433.3,301.51 435.3,301.11 437.3,300.75 439.3,300.43 441.3,300.14 443.3,299.90 445.3,299.70 447.3,299.54 449.3,299.43 451.3,299.37 453.3,299.35 455.3,299.38 457.3,299.46 459.3,299.59 461.3,299.77 463.3,299.98 465.4,300.25 467.4,300.55 469.4,300.88 471.4,301.26 473.4,301.66 475.4,302.09 477.4,302.55 479.4,303.02 481.4,303.51 483.4,304.01 485.4,304.52 487.4,305.01 489.4,305.50 491.4,306.02 493.4,306.55 495.4,307.07 497.4,307.57 499.4,308.05 501.4,308.48 503.4,308.87 505.4,309.19 507.4,309.44 509.4,309.59 511.4,309.65 511.5,309.65 537.5,309.65 537.5,314.95 511.5,314.95 511.4,314.95 509.4,314.89 507.4,314.74 505.4,314.49 503.4,314.17 501.4,313.78 499.4,313.35 497.4,312.87 495.4,312.37 493.4,311.85 491.4,311.32 489.4,310.80 487.4,310.31 485.4,309.86 483.4,309.45 481.4,309.04 479.4,308.64 477.4,308.25 475.4,307.88 473.4,307.53 471.4,307.20 469.4,306.90 467.4,306.62 465.4,306.38 463.3,306.17 461.3,305.99 459.3,305.85 457.3,305.74 455.3,305.68 453.3,305.65 451.3,305.66 449.3,305.71 447.3,305.80 445.3,305.93 443.3,306.10 441.3,306.30 439.3,306.53 437.3,306.79 435.3,307.09 433.3,307.41 431.3,307.75 429.3,308.11 427.3,308.49 425.3,308.89 423.3,309.29 421.3,309.71 419.3,310.13 417.3,310.56 415.2,311.00 413.2,311.42 411.2,311.84 409.2,312.24 407.2,312.63 405.2,313.00 403.2,313.35 401.2,313.68 399.2,313.98 397.2,314.25 395.2,314.49 393.2,314.70 391.2,314.88 389.2,315.03 387.2,315.14 385.2,315.21 383.2,315.25 381.2,315.25 379.2,315.21 377.2,315.13 375.2,315.02 373.2,314.88 371.2,314.70 369.2,314.49 367.1,314.25 365.1,313.97 363.1,313.67 361.1,313.34 359.1,312.99 357.1,312.62 355.1,312.23 353.1,311.83 351.1,311.41 349.1,310.99 347.1,310.55 345.1,310.12 343.1,309.70 341.1,309.25 339.1,308.78 337.1,308.30 335.1,307.83 333.1,307.36 331.1,306.93 329.1,306.53 327.1,306.19 325.1,305.92 323.1,305.72 321.1,305.61 320.0,305.60 295.0,305.60" fill="#fff" stroke="#231f20" stroke-width="1.05" stroke-linejoin="miter"/>
<path d="M303.8,305.60L309.6,300.30M318.6,305.60L324.4,300.54M333.1,307.37L338.9,303.44M348.1,310.77L353.9,306.32M361.1,313.34L366.9,308.11M375.1,315.02L380.9,308.94M391.1,314.89L396.9,308.17M405.1,313.02L410.9,306.25M423.1,309.33L428.9,302.46M434.6,307.19L440.4,300.27M450.1,305.69L455.9,299.40M467.1,306.59L472.9,301.56M481.1,308.98L486.9,304.89M495.1,312.29L500.9,308.37M507.1,314.70L512.9,309.65M519.1,314.95L524.9,309.65M530.9,314.95L536.7,309.65" stroke="#231f20" stroke-width="1.05" fill="none"/>
<polygon points="398.6,300.58 400.6,300.88 402.6,301.21 404.6,301.57 406.6,301.95 408.6,302.34 410.6,302.76 412.6,303.19 414.6,303.62 416.6,304.07 418.6,304.52 420.6,304.95 422.6,305.34 424.6,305.73 426.6,306.11 428.6,306.48 430.6,306.83 432.6,307.16 434.6,307.48 436.6,307.76 438.6,308.03 440.6,308.26 440.6,314.39 438.6,314.11 436.6,313.78 434.6,313.43 432.6,313.04 430.6,312.63 428.6,312.19 426.6,311.73 424.6,311.26 422.6,310.78 420.6,310.29 418.6,309.87 416.6,309.50 414.6,309.13 412.6,308.77 410.6,308.43 408.6,308.09 406.6,307.77 404.6,307.46 402.6,307.17 400.6,306.90 398.6,306.65" fill="#dcddde"/>
<polyline points="398.6,300.58 400.6,300.88 402.6,301.21 404.6,301.57 406.6,301.95 408.6,302.34 410.6,302.76 412.6,303.19 414.6,303.62 416.6,304.07 418.6,304.52 420.6,304.95 422.6,305.34 424.6,305.73 426.6,306.11 428.6,306.48 430.6,306.83 432.6,307.16 434.6,307.48 436.6,307.76 438.6,308.03 440.6,308.26" fill="none" stroke="#231f20" stroke-width="1.05"/>
<polyline points="398.6,306.65 400.6,306.90 402.6,307.17 404.6,307.46 406.6,307.77 408.6,308.09 410.6,308.43 412.6,308.77 414.6,309.13 416.6,309.50 418.6,309.87 420.6,310.29 422.6,310.78 424.6,311.26 426.6,311.73 428.6,312.19 430.6,312.63 432.6,313.04 434.6,313.43 436.6,313.78 438.6,314.11 440.6,314.39" fill="none" stroke="#231f20" stroke-width="1.05"/>
<path d="M97.2,457.4 H107.9 V438.2 H121.5 V457.4 H135.6 V438.2 H149.9 V457.4 H163.9 V438.2 H178.0 V457.4 H190.3" fill="none" stroke="#231f20" stroke-width="1.3" stroke-linejoin="miter"/>
<path d="M480.8,535.3 H493.8 V523.7 H507.7 V535.3 H521.8 V523.7 H535.9 V535.3 H549.8 V523.7 H563.7 V535.3 H575.0" fill="none" stroke="#231f20" stroke-width="1.3" stroke-linejoin="miter"/>
<path d="M191.8,448.4 H225.3" stroke="#231f20" stroke-width="1.3" fill="none"/>
<path d="M445.5,493.1 L479.6,520.2 L445.5,546.1 M479.6,520.2 H445.5" stroke="#231f20" stroke-width="1.3" fill="none" stroke-linejoin="miter"/>
<line x1="227.20" y1="445.50" x2="237.20" y2="445.50" stroke="#231f20" stroke-width="1.1"/>
<line x1="227.20" y1="453.50" x2="237.20" y2="453.50" stroke="#231f20" stroke-width="1.1"/>
<line x1="431.20" y1="445.50" x2="442.00" y2="445.50" stroke="#231f20" stroke-width="1.1"/>
<line x1="431.20" y1="453.50" x2="442.00" y2="453.50" stroke="#231f20" stroke-width="1.1"/>
<polygon points="237.2,450.92 257.2,450.92 258.0,450.91 259.6,450.81 261.2,450.63 262.9,450.38 264.5,450.08 266.1,449.72 267.7,449.34 269.3,448.93 270.9,448.50 272.5,448.08 274.1,447.68 275.7,447.30 277.3,446.94 278.9,446.58 280.5,446.22 282.1,445.87 283.7,445.52 285.3,445.18 286.9,444.86 288.5,444.55 290.1,444.26 291.7,443.99 293.3,443.74 294.9,443.51 296.5,443.31 298.1,443.14 299.7,442.99 301.3,442.87 302.9,442.78 304.5,442.71 306.1,442.68 307.7,442.68 309.3,442.71 311.0,442.77 312.6,442.87 314.2,442.98 315.8,443.13 317.4,443.31 319.0,443.51 320.6,443.74 322.2,443.99 323.8,444.26 325.4,444.55 327.0,444.86 328.6,445.18 330.2,445.51 331.8,445.86 333.4,446.21 335.0,446.57 336.6,446.94 338.2,447.26 339.8,447.58 341.4,447.89 343.0,448.19 344.6,448.48 346.2,448.76 347.8,449.02 349.4,449.26 351.0,449.49 352.6,449.69 354.2,449.87 355.8,450.02 357.4,450.14 359.1,450.24 360.7,450.31 362.3,450.35 363.9,450.36 365.5,450.34 367.1,450.29 368.7,450.21 370.3,450.10 371.9,449.97 373.5,449.80 375.1,449.62 376.7,449.41 378.3,449.17 379.9,448.92 381.5,448.65 383.1,448.37 384.7,448.08 386.3,447.77 387.9,447.46 389.5,447.14 391.1,446.80 392.7,446.43 394.3,446.05 395.9,445.66 397.5,445.28 399.1,444.92 400.7,444.58 402.3,444.26 403.9,443.99 405.5,443.76 407.2,443.59 408.8,443.48 410.4,443.44 410.4,443.44 431.2,443.44 431.2,447.96 410.4,447.96 410.4,447.96 408.8,448.00 407.2,448.11 405.5,448.28 403.9,448.51 402.3,448.78 400.7,449.10 399.1,449.44 397.5,449.80 395.9,450.18 394.3,450.57 392.7,450.95 391.1,451.32 389.5,451.70 387.9,452.09 386.3,452.47 384.7,452.85 383.1,453.22 381.5,453.57 379.9,453.90 378.3,454.21 376.7,454.50 375.1,454.76 373.5,454.99 371.9,455.19 370.3,455.36 368.7,455.49 367.1,455.59 365.5,455.65 363.9,455.68 362.3,455.67 360.7,455.62 359.1,455.53 357.4,455.41 355.8,455.26 354.2,455.07 352.6,454.85 351.0,454.60 349.4,454.32 347.8,454.02 346.2,453.70 344.6,453.35 343.0,452.99 341.4,452.62 339.8,452.23 338.2,451.84 336.6,451.47 335.0,451.17 333.4,450.88 331.8,450.59 330.2,450.31 328.6,450.04 327.0,449.77 325.4,449.52 323.8,449.29 322.2,449.06 320.6,448.86 319.0,448.68 317.4,448.51 315.8,448.37 314.2,448.25 312.6,448.15 311.0,448.08 309.3,448.03 307.7,448.00 306.1,448.00 304.5,448.03 302.9,448.08 301.3,448.15 299.7,448.25 298.1,448.37 296.5,448.52 294.9,448.68 293.3,448.87 291.7,449.07 290.1,449.29 288.5,449.53 286.9,449.78 285.3,450.04 283.7,450.31 282.1,450.60 280.5,450.89 278.9,451.18 277.3,451.48 275.7,451.82 274.1,452.20 272.5,452.60 270.9,453.02 269.3,453.45 267.7,453.86 266.1,454.24 264.5,454.60 262.9,454.90 261.2,455.15 259.6,455.33 258.0,455.43 257.2,455.44 237.2,455.44" fill="#0a3f5f" stroke="#231f20" stroke-width="1.05" stroke-linejoin="miter"/>
<polygon points="237.2,443.44 257.2,443.44 258.0,443.45 259.6,443.54 261.2,443.69 262.9,443.91 264.5,444.19 266.1,444.50 267.7,444.85 269.3,445.22 270.9,445.60 272.5,445.99 274.1,446.36 275.7,446.72 277.3,447.04 278.9,447.33 280.5,447.61 282.1,447.88 283.7,448.15 285.3,448.41 286.9,448.66 288.5,448.90 290.1,449.13 291.7,449.34 293.3,449.53 294.9,449.71 296.5,449.87 298.1,450.01 299.7,450.12 301.3,450.21 302.9,450.29 304.5,450.33 306.1,450.36 307.7,450.36 309.3,450.33 311.0,450.29 312.6,450.22 314.2,450.12 315.8,450.01 317.4,449.87 319.0,449.71 320.6,449.54 322.2,449.34 323.8,449.13 325.4,448.91 327.0,448.67 328.6,448.42 330.2,448.16 331.8,447.89 333.4,447.61 335.0,447.33 336.6,447.05 338.2,446.66 339.8,446.26 341.4,445.86 343.0,445.47 344.6,445.10 346.2,444.74 347.8,444.40 349.4,444.09 351.0,443.80 352.6,443.54 354.2,443.31 355.8,443.12 357.4,442.96 359.1,442.83 360.7,442.74 362.3,442.69 363.9,442.68 365.5,442.71 367.1,442.77 368.7,442.87 370.3,443.01 371.9,443.19 373.5,443.40 375.1,443.64 376.7,443.91 378.3,444.21 379.9,444.53 381.5,444.87 383.1,445.24 384.7,445.62 386.3,446.01 387.9,446.41 389.5,446.82 391.1,447.21 392.7,447.60 394.3,448.02 395.9,448.44 397.5,448.85 399.1,449.26 400.7,449.64 402.3,449.99 403.9,450.30 405.5,450.55 407.2,450.75 408.8,450.87 410.4,450.92 410.4,450.92 431.2,450.92 431.2,455.44 410.4,455.44 410.4,455.44 408.8,455.39 407.2,455.27 405.5,455.07 403.9,454.82 402.3,454.51 400.7,454.16 399.1,453.78 397.5,453.37 395.9,452.96 394.3,452.54 392.7,452.12 391.1,451.73 389.5,451.37 387.9,451.04 386.3,450.71 384.7,450.39 383.1,450.08 381.5,449.79 379.9,449.51 378.3,449.24 376.7,449.00 375.1,448.78 373.5,448.58 371.9,448.41 370.3,448.27 368.7,448.16 367.1,448.07 365.5,448.02 363.9,448.00 362.3,448.01 360.7,448.05 359.1,448.12 357.4,448.23 355.8,448.36 354.2,448.52 352.6,448.70 351.0,448.91 349.4,449.15 347.8,449.40 346.2,449.68 344.6,449.97 343.0,450.28 341.4,450.59 339.8,450.92 338.2,451.25 336.6,451.58 335.0,451.93 333.4,452.28 331.8,452.62 330.2,452.95 328.6,453.27 327.0,453.59 325.4,453.88 323.8,454.16 322.2,454.42 320.6,454.66 319.0,454.88 317.4,455.07 315.8,455.24 314.2,455.39 312.6,455.50 311.0,455.59 309.3,455.65 307.7,455.68 306.1,455.68 304.5,455.65 302.9,455.59 301.3,455.50 299.7,455.38 298.1,455.24 296.5,455.07 294.9,454.88 293.3,454.66 291.7,454.42 290.1,454.16 288.5,453.88 286.9,453.58 285.3,453.27 283.7,452.94 282.1,452.61 280.5,452.27 278.9,451.92 277.3,451.57 275.7,451.24 274.1,450.88 272.5,450.51 270.9,450.12 269.3,449.74 267.7,449.37 266.1,449.02 264.5,448.71 262.9,448.43 261.2,448.21 259.6,448.06 258.0,447.97 257.2,447.96 237.2,447.96" fill="#fff" stroke="#231f20" stroke-width="1.05" stroke-linejoin="miter"/>
<path d="M244.2,447.96L248.9,443.44M256.1,447.96L260.7,443.64M267.7,449.38L272.3,445.95M279.7,452.09L284.3,448.25M290.1,454.15L294.7,449.69M301.3,455.50L305.9,450.35M314.1,455.39L318.7,449.74M325.3,453.90L329.9,448.20M339.7,450.94L344.3,445.17M348.9,449.23L353.5,443.41M361.3,448.03L365.9,442.72M374.9,448.75L379.5,444.45M386.1,450.67L390.7,447.11M397.3,453.31L401.9,449.90M406.9,455.24L411.5,450.92M416.5,455.44L421.1,450.92M425.9,455.44L430.6,450.92" stroke="#231f20" stroke-width="1.05" fill="none"/>
<polygon points="320.1,443.66 321.7,443.91 323.3,444.17 324.9,444.45 326.5,444.76 328.1,445.07 329.7,445.41 331.3,445.75 332.9,446.10 334.5,446.46 336.1,446.82 337.7,447.16 339.3,447.47 340.9,447.78 342.5,448.09 344.1,448.38 345.7,448.66 347.3,448.93 348.9,449.18 350.5,449.41 352.1,449.62 353.7,449.81 353.7,455.00 352.1,454.77 350.5,454.51 348.9,454.22 347.3,453.91 345.7,453.58 344.1,453.23 342.5,452.87 340.9,452.49 339.3,452.11 337.7,451.72 336.1,451.37 334.5,451.08 332.9,450.79 331.3,450.50 329.7,450.22 328.1,449.95 326.5,449.69 324.9,449.45 323.3,449.21 321.7,449.00 320.1,448.80" fill="#0a3f5f"/>
<polyline points="320.1,443.66 321.7,443.91 323.3,444.17 324.9,444.45 326.5,444.76 328.1,445.07 329.7,445.41 331.3,445.75 332.9,446.10 334.5,446.46 336.1,446.82 337.7,447.16 339.3,447.47 340.9,447.78 342.5,448.09 344.1,448.38 345.7,448.66 347.3,448.93 348.9,449.18 350.5,449.41 352.1,449.62 353.7,449.81" fill="none" stroke="#231f20" stroke-width="1.05"/>
<polyline points="320.1,448.80 321.7,449.00 323.3,449.21 324.9,449.45 326.5,449.69 328.1,449.95 329.7,450.22 331.3,450.50 332.9,450.79 334.5,451.08 336.1,451.37 337.7,451.72 339.3,452.11 340.9,452.49 342.5,452.87 344.1,453.23 345.7,453.58 347.3,453.91 348.9,454.22 350.5,454.51 352.1,454.77 353.7,455.00" fill="none" stroke="#231f20" stroke-width="1.05"/>
<line x1="226.80" y1="490.75" x2="237.20" y2="490.75" stroke="#0a8a50" stroke-width="1.2"/>
<line x1="227.20" y1="490.50" x2="237.20" y2="490.50" stroke="#231f20" stroke-width="1.1"/>
<line x1="226.80" y1="498.75" x2="237.20" y2="498.75" stroke="#0a8a50" stroke-width="1.2"/>
<line x1="227.20" y1="498.50" x2="237.20" y2="498.50" stroke="#231f20" stroke-width="1.1"/>
<line x1="431.20" y1="490.30" x2="442.80" y2="490.30" stroke="#0a8a50" stroke-width="1.2"/>
<line x1="431.20" y1="490.50" x2="442.00" y2="490.50" stroke="#231f20" stroke-width="1.1"/>
<line x1="431.20" y1="498.30" x2="442.80" y2="498.30" stroke="#0a8a50" stroke-width="1.2"/>
<line x1="431.20" y1="498.50" x2="442.00" y2="498.50" stroke="#231f20" stroke-width="1.1"/>
<polygon points="237.2,496.02 257.2,496.02 258.0,496.01 259.6,495.91 261.2,495.73 262.9,495.48 264.5,495.18 266.1,494.82 267.7,494.44 269.3,494.03 270.9,493.60 272.5,493.18 274.1,492.78 275.7,492.40 277.3,492.04 278.9,491.68 280.5,491.32 282.1,490.97 283.7,490.62 285.3,490.28 286.9,489.96 288.5,489.65 290.1,489.36 291.7,489.09 293.3,488.84 294.9,488.61 296.5,488.41 298.1,488.24 299.7,488.09 301.3,487.97 302.9,487.88 304.5,487.81 306.1,487.78 307.7,487.78 309.3,487.81 311.0,487.87 312.6,487.97 314.2,488.08 315.8,488.23 317.4,488.41 319.0,488.61 320.6,488.84 322.2,489.09 323.8,489.36 325.4,489.65 327.0,489.96 328.6,490.28 330.2,490.61 331.8,490.96 333.4,491.31 335.0,491.67 336.6,492.04 338.2,492.36 339.8,492.68 341.4,492.99 343.0,493.29 344.6,493.58 346.2,493.86 347.8,494.12 349.4,494.36 351.0,494.59 352.6,494.79 354.2,494.97 355.8,495.12 357.4,495.24 359.1,495.34 360.7,495.41 362.3,495.45 363.9,495.46 365.5,495.44 367.1,495.39 368.7,495.31 370.3,495.20 371.9,495.07 373.5,494.90 375.1,494.72 376.7,494.51 378.3,494.27 379.9,494.02 381.5,493.75 383.1,493.47 384.7,493.18 386.3,492.87 387.9,492.56 389.5,492.24 391.1,491.90 392.7,491.53 394.3,491.15 395.9,490.76 397.5,490.38 399.1,490.02 400.7,489.68 402.3,489.36 403.9,489.09 405.5,488.86 407.2,488.69 408.8,488.58 410.4,488.54 410.4,488.54 431.2,488.54 431.2,493.06 410.4,493.06 410.4,493.06 408.8,493.10 407.2,493.21 405.5,493.38 403.9,493.61 402.3,493.88 400.7,494.20 399.1,494.54 397.5,494.90 395.9,495.28 394.3,495.67 392.7,496.05 391.1,496.42 389.5,496.80 387.9,497.19 386.3,497.57 384.7,497.95 383.1,498.32 381.5,498.67 379.9,499.00 378.3,499.31 376.7,499.60 375.1,499.86 373.5,500.09 371.9,500.29 370.3,500.46 368.7,500.59 367.1,500.69 365.5,500.75 363.9,500.78 362.3,500.77 360.7,500.72 359.1,500.63 357.4,500.51 355.8,500.36 354.2,500.17 352.6,499.95 351.0,499.70 349.4,499.42 347.8,499.12 346.2,498.80 344.6,498.45 343.0,498.09 341.4,497.72 339.8,497.33 338.2,496.94 336.6,496.57 335.0,496.27 333.4,495.98 331.8,495.69 330.2,495.41 328.6,495.14 327.0,494.87 325.4,494.62 323.8,494.39 322.2,494.16 320.6,493.96 319.0,493.78 317.4,493.61 315.8,493.47 314.2,493.35 312.6,493.25 311.0,493.18 309.3,493.13 307.7,493.10 306.1,493.10 304.5,493.13 302.9,493.18 301.3,493.25 299.7,493.35 298.1,493.47 296.5,493.62 294.9,493.78 293.3,493.97 291.7,494.17 290.1,494.39 288.5,494.63 286.9,494.88 285.3,495.14 283.7,495.41 282.1,495.70 280.5,495.99 278.9,496.28 277.3,496.58 275.7,496.92 274.1,497.30 272.5,497.70 270.9,498.12 269.3,498.55 267.7,498.96 266.1,499.34 264.5,499.70 262.9,500.00 261.2,500.25 259.6,500.43 258.0,500.53 257.2,500.54 237.2,500.54" fill="#0a8a50" stroke="#231f20" stroke-width="1.05" stroke-linejoin="miter"/>
<polygon points="237.2,488.54 257.2,488.54 258.0,488.55 259.6,488.64 261.2,488.79 262.9,489.01 264.5,489.29 266.1,489.60 267.7,489.95 269.3,490.32 270.9,490.70 272.5,491.09 274.1,491.46 275.7,491.82 277.3,492.14 278.9,492.43 280.5,492.71 282.1,492.98 283.7,493.25 285.3,493.51 286.9,493.76 288.5,494.00 290.1,494.23 291.7,494.44 293.3,494.63 294.9,494.81 296.5,494.97 298.1,495.11 299.7,495.22 301.3,495.31 302.9,495.39 304.5,495.43 306.1,495.46 307.7,495.46 309.3,495.43 311.0,495.39 312.6,495.32 314.2,495.22 315.8,495.11 317.4,494.97 319.0,494.81 320.6,494.64 322.2,494.44 323.8,494.23 325.4,494.01 327.0,493.77 328.6,493.52 330.2,493.26 331.8,492.99 333.4,492.71 335.0,492.43 336.6,492.15 338.2,491.76 339.8,491.36 341.4,490.96 343.0,490.57 344.6,490.20 346.2,489.84 347.8,489.50 349.4,489.19 351.0,488.90 352.6,488.64 354.2,488.41 355.8,488.22 357.4,488.06 359.1,487.93 360.7,487.84 362.3,487.79 363.9,487.78 365.5,487.81 367.1,487.87 368.7,487.97 370.3,488.11 371.9,488.29 373.5,488.50 375.1,488.74 376.7,489.01 378.3,489.31 379.9,489.63 381.5,489.97 383.1,490.34 384.7,490.72 386.3,491.11 387.9,491.51 389.5,491.92 391.1,492.31 392.7,492.70 394.3,493.12 395.9,493.54 397.5,493.95 399.1,494.36 400.7,494.74 402.3,495.09 403.9,495.40 405.5,495.65 407.2,495.85 408.8,495.97 410.4,496.02 410.4,496.02 431.2,496.02 431.2,500.54 410.4,500.54 410.4,500.54 408.8,500.49 407.2,500.37 405.5,500.17 403.9,499.92 402.3,499.61 400.7,499.26 399.1,498.88 397.5,498.47 395.9,498.06 394.3,497.64 392.7,497.22 391.1,496.83 389.5,496.47 387.9,496.14 386.3,495.81 384.7,495.49 383.1,495.18 381.5,494.89 379.9,494.61 378.3,494.34 376.7,494.10 375.1,493.88 373.5,493.68 371.9,493.51 370.3,493.37 368.7,493.26 367.1,493.17 365.5,493.12 363.9,493.10 362.3,493.11 360.7,493.15 359.1,493.22 357.4,493.33 355.8,493.46 354.2,493.62 352.6,493.80 351.0,494.01 349.4,494.25 347.8,494.50 346.2,494.78 344.6,495.07 343.0,495.38 341.4,495.69 339.8,496.02 338.2,496.35 336.6,496.68 335.0,497.03 333.4,497.38 331.8,497.72 330.2,498.05 328.6,498.37 327.0,498.69 325.4,498.98 323.8,499.26 322.2,499.52 320.6,499.76 319.0,499.98 317.4,500.17 315.8,500.34 314.2,500.49 312.6,500.60 311.0,500.69 309.3,500.75 307.7,500.78 306.1,500.78 304.5,500.75 302.9,500.69 301.3,500.60 299.7,500.48 298.1,500.34 296.5,500.17 294.9,499.98 293.3,499.76 291.7,499.52 290.1,499.26 288.5,498.98 286.9,498.68 285.3,498.37 283.7,498.04 282.1,497.71 280.5,497.37 278.9,497.02 277.3,496.67 275.7,496.34 274.1,495.98 272.5,495.61 270.9,495.22 269.3,494.84 267.7,494.47 266.1,494.12 264.5,493.81 262.9,493.53 261.2,493.31 259.6,493.16 258.0,493.07 257.2,493.06 237.2,493.06" fill="#fff" stroke="#231f20" stroke-width="1.05" stroke-linejoin="miter"/>
<path d="M244.2,493.06L248.9,488.54M256.1,493.06L260.7,488.74M267.7,494.48L272.3,491.05M279.7,497.19L284.3,493.35M290.1,499.25L294.7,494.79M301.3,500.60L305.9,495.45M314.1,500.49L318.7,494.84M325.3,499.00L329.9,493.30M339.7,496.04L344.3,490.27M348.9,494.33L353.5,488.51M361.3,493.13L365.9,487.82M374.9,493.85L379.5,489.55M386.1,495.77L390.7,492.21M397.3,498.41L401.9,495.00M406.9,500.34L411.5,496.02M416.5,500.54L421.1,496.02M425.9,500.54L430.6,496.02" stroke="#231f20" stroke-width="1.05" fill="none"/>
<polygon points="320.1,488.76 321.7,489.01 323.3,489.27 324.9,489.55 326.5,489.86 328.1,490.17 329.7,490.51 331.3,490.85 332.9,491.20 334.5,491.56 336.1,491.92 337.7,492.26 339.3,492.57 340.9,492.88 342.5,493.19 344.1,493.48 345.7,493.76 347.3,494.03 348.9,494.28 350.5,494.51 352.1,494.72 353.7,494.91 353.7,500.10 352.1,499.87 350.5,499.61 348.9,499.32 347.3,499.01 345.7,498.68 344.1,498.33 342.5,497.97 340.9,497.59 339.3,497.21 337.7,496.82 336.1,496.47 334.5,496.18 332.9,495.89 331.3,495.60 329.7,495.32 328.1,495.05 326.5,494.79 324.9,494.55 323.3,494.31 321.7,494.10 320.1,493.90" fill="#0a8a50"/>
<polyline points="320.1,488.76 321.7,489.01 323.3,489.27 324.9,489.55 326.5,489.86 328.1,490.17 329.7,490.51 331.3,490.85 332.9,491.20 334.5,491.56 336.1,491.92 337.7,492.26 339.3,492.57 340.9,492.88 342.5,493.19 344.1,493.48 345.7,493.76 347.3,494.03 348.9,494.28 350.5,494.51 352.1,494.72 353.7,494.91" fill="none" stroke="#231f20" stroke-width="1.05"/>
<polyline points="320.1,493.90 321.7,494.10 323.3,494.31 324.9,494.55 326.5,494.79 328.1,495.05 329.7,495.32 331.3,495.60 332.9,495.89 334.5,496.18 336.1,496.47 337.7,496.82 339.3,497.21 340.9,497.59 342.5,497.97 344.1,498.33 345.7,498.68 347.3,499.01 348.9,499.32 350.5,499.61 352.1,499.87 353.7,500.10" fill="none" stroke="#231f20" stroke-width="1.05"/>
<line x1="226.80" y1="516.75" x2="237.20" y2="516.75" stroke="#f9a166" stroke-width="1.2"/>
<line x1="227.20" y1="516.50" x2="237.20" y2="516.50" stroke="#231f20" stroke-width="1.1"/>
<line x1="226.80" y1="524.75" x2="237.20" y2="524.75" stroke="#f9a166" stroke-width="1.2"/>
<line x1="227.20" y1="524.50" x2="237.20" y2="524.50" stroke="#231f20" stroke-width="1.1"/>
<line x1="431.20" y1="516.30" x2="442.80" y2="516.30" stroke="#f9a166" stroke-width="1.2"/>
<line x1="431.20" y1="516.50" x2="442.00" y2="516.50" stroke="#231f20" stroke-width="1.1"/>
<line x1="431.20" y1="524.30" x2="442.80" y2="524.30" stroke="#f9a166" stroke-width="1.2"/>
<line x1="431.20" y1="524.50" x2="442.00" y2="524.50" stroke="#231f20" stroke-width="1.1"/>
<polygon points="237.2,522.12 257.2,522.12 258.0,522.11 259.6,522.01 261.2,521.83 262.9,521.58 264.5,521.28 266.1,520.92 267.7,520.54 269.3,520.13 270.9,519.70 272.5,519.28 274.1,518.88 275.7,518.50 277.3,518.14 278.9,517.78 280.5,517.42 282.1,517.07 283.7,516.72 285.3,516.38 286.9,516.06 288.5,515.75 290.1,515.46 291.7,515.19 293.3,514.94 294.9,514.71 296.5,514.51 298.1,514.34 299.7,514.19 301.3,514.07 302.9,513.98 304.5,513.91 306.1,513.88 307.7,513.88 309.3,513.91 311.0,513.97 312.6,514.07 314.2,514.18 315.8,514.33 317.4,514.51 319.0,514.71 320.6,514.94 322.2,515.19 323.8,515.46 325.4,515.75 327.0,516.06 328.6,516.38 330.2,516.71 331.8,517.06 333.4,517.41 335.0,517.77 336.6,518.14 338.2,518.46 339.8,518.78 341.4,519.09 343.0,519.39 344.6,519.68 346.2,519.96 347.8,520.22 349.4,520.46 351.0,520.69 352.6,520.89 354.2,521.07 355.8,521.22 357.4,521.34 359.1,521.44 360.7,521.51 362.3,521.55 363.9,521.56 365.5,521.54 367.1,521.49 368.7,521.41 370.3,521.30 371.9,521.17 373.5,521.00 375.1,520.82 376.7,520.61 378.3,520.37 379.9,520.12 381.5,519.85 383.1,519.57 384.7,519.28 386.3,518.97 387.9,518.66 389.5,518.34 391.1,518.00 392.7,517.63 394.3,517.25 395.9,516.86 397.5,516.48 399.1,516.12 400.7,515.78 402.3,515.46 403.9,515.19 405.5,514.96 407.2,514.79 408.8,514.68 410.4,514.64 410.4,514.64 431.2,514.64 431.2,519.16 410.4,519.16 410.4,519.16 408.8,519.20 407.2,519.31 405.5,519.48 403.9,519.71 402.3,519.98 400.7,520.30 399.1,520.64 397.5,521.00 395.9,521.38 394.3,521.77 392.7,522.15 391.1,522.52 389.5,522.90 387.9,523.29 386.3,523.67 384.7,524.05 383.1,524.42 381.5,524.77 379.9,525.10 378.3,525.41 376.7,525.70 375.1,525.96 373.5,526.19 371.9,526.39 370.3,526.56 368.7,526.69 367.1,526.79 365.5,526.85 363.9,526.88 362.3,526.87 360.7,526.82 359.1,526.73 357.4,526.61 355.8,526.46 354.2,526.27 352.6,526.05 351.0,525.80 349.4,525.52 347.8,525.22 346.2,524.90 344.6,524.55 343.0,524.19 341.4,523.82 339.8,523.43 338.2,523.04 336.6,522.67 335.0,522.37 333.4,522.08 331.8,521.79 330.2,521.51 328.6,521.24 327.0,520.97 325.4,520.72 323.8,520.49 322.2,520.26 320.6,520.06 319.0,519.88 317.4,519.71 315.8,519.57 314.2,519.45 312.6,519.35 311.0,519.28 309.3,519.23 307.7,519.20 306.1,519.20 304.5,519.23 302.9,519.28 301.3,519.35 299.7,519.45 298.1,519.57 296.5,519.72 294.9,519.88 293.3,520.07 291.7,520.27 290.1,520.49 288.5,520.73 286.9,520.98 285.3,521.24 283.7,521.51 282.1,521.80 280.5,522.09 278.9,522.38 277.3,522.68 275.7,523.02 274.1,523.40 272.5,523.80 270.9,524.22 269.3,524.65 267.7,525.06 266.1,525.44 264.5,525.80 262.9,526.10 261.2,526.35 259.6,526.53 258.0,526.63 257.2,526.64 237.2,526.64" fill="#f9a166" stroke="#231f20" stroke-width="1.05" stroke-linejoin="miter"/>
<polygon points="237.2,514.64 257.2,514.64 258.0,514.65 259.6,514.74 261.2,514.89 262.9,515.11 264.5,515.39 266.1,515.70 267.7,516.05 269.3,516.42 270.9,516.80 272.5,517.19 274.1,517.56 275.7,517.92 277.3,518.24 278.9,518.53 280.5,518.81 282.1,519.08 283.7,519.35 285.3,519.61 286.9,519.86 288.5,520.10 290.1,520.33 291.7,520.54 293.3,520.73 294.9,520.91 296.5,521.07 298.1,521.21 299.7,521.32 301.3,521.41 302.9,521.49 304.5,521.53 306.1,521.56 307.7,521.56 309.3,521.53 311.0,521.49 312.6,521.42 314.2,521.32 315.8,521.21 317.4,521.07 319.0,520.91 320.6,520.74 322.2,520.54 323.8,520.33 325.4,520.11 327.0,519.87 328.6,519.62 330.2,519.36 331.8,519.09 333.4,518.81 335.0,518.53 336.6,518.25 338.2,517.86 339.8,517.46 341.4,517.06 343.0,516.67 344.6,516.30 346.2,515.94 347.8,515.60 349.4,515.29 351.0,515.00 352.6,514.74 354.2,514.51 355.8,514.32 357.4,514.16 359.1,514.03 360.7,513.94 362.3,513.89 363.9,513.88 365.5,513.91 367.1,513.97 368.7,514.07 370.3,514.21 371.9,514.39 373.5,514.60 375.1,514.84 376.7,515.11 378.3,515.41 379.9,515.73 381.5,516.07 383.1,516.44 384.7,516.82 386.3,517.21 387.9,517.61 389.5,518.02 391.1,518.41 392.7,518.80 394.3,519.22 395.9,519.64 397.5,520.05 399.1,520.46 400.7,520.84 402.3,521.19 403.9,521.50 405.5,521.75 407.2,521.95 408.8,522.07 410.4,522.12 410.4,522.12 431.2,522.12 431.2,526.64 410.4,526.64 410.4,526.64 408.8,526.59 407.2,526.47 405.5,526.27 403.9,526.02 402.3,525.71 400.7,525.36 399.1,524.98 397.5,524.57 395.9,524.16 394.3,523.74 392.7,523.32 391.1,522.93 389.5,522.57 387.9,522.24 386.3,521.91 384.7,521.59 383.1,521.28 381.5,520.99 379.9,520.71 378.3,520.44 376.7,520.20 375.1,519.98 373.5,519.78 371.9,519.61 370.3,519.47 368.7,519.36 367.1,519.27 365.5,519.22 363.9,519.20 362.3,519.21 360.7,519.25 359.1,519.32 357.4,519.43 355.8,519.56 354.2,519.72 352.6,519.90 351.0,520.11 349.4,520.35 347.8,520.60 346.2,520.88 344.6,521.17 343.0,521.48 341.4,521.79 339.8,522.12 338.2,522.45 336.6,522.78 335.0,523.13 333.4,523.48 331.8,523.82 330.2,524.15 328.6,524.47 327.0,524.79 325.4,525.08 323.8,525.36 322.2,525.62 320.6,525.86 319.0,526.08 317.4,526.27 315.8,526.44 314.2,526.59 312.6,526.70 311.0,526.79 309.3,526.85 307.7,526.88 306.1,526.88 304.5,526.85 302.9,526.79 301.3,526.70 299.7,526.58 298.1,526.44 296.5,526.27 294.9,526.08 293.3,525.86 291.7,525.62 290.1,525.36 288.5,525.08 286.9,524.78 285.3,524.47 283.7,524.14 282.1,523.81 280.5,523.47 278.9,523.12 277.3,522.77 275.7,522.44 274.1,522.08 272.5,521.71 270.9,521.32 269.3,520.94 267.7,520.57 266.1,520.22 264.5,519.91 262.9,519.63 261.2,519.41 259.6,519.26 258.0,519.17 257.2,519.16 237.2,519.16" fill="#fff" stroke="#231f20" stroke-width="1.05" stroke-linejoin="miter"/>
<path d="M244.2,519.16L248.9,514.64M256.1,519.16L260.7,514.84M267.7,520.58L272.3,517.15M279.7,523.29L284.3,519.45M290.1,525.35L294.7,520.89M301.3,526.70L305.9,521.55M314.1,526.59L318.7,520.94M325.3,525.10L329.9,519.40M339.7,522.14L344.3,516.37M348.9,520.43L353.5,514.61M361.3,519.23L365.9,513.92M374.9,519.95L379.5,515.65M386.1,521.87L390.7,518.31M397.3,524.51L401.9,521.10M406.9,526.44L411.5,522.12M416.5,526.64L421.1,522.12M425.9,526.64L430.6,522.12" stroke="#231f20" stroke-width="1.05" fill="none"/>
<polygon points="320.1,514.86 321.7,515.11 323.3,515.37 324.9,515.65 326.5,515.96 328.1,516.27 329.7,516.61 331.3,516.95 332.9,517.30 334.5,517.66 336.1,518.02 337.7,518.36 339.3,518.67 340.9,518.98 342.5,519.29 344.1,519.58 345.7,519.86 347.3,520.13 348.9,520.38 350.5,520.61 352.1,520.82 353.7,521.01 353.7,526.20 352.1,525.97 350.5,525.71 348.9,525.42 347.3,525.11 345.7,524.78 344.1,524.43 342.5,524.07 340.9,523.69 339.3,523.31 337.7,522.92 336.1,522.57 334.5,522.28 332.9,521.99 331.3,521.70 329.7,521.42 328.1,521.15 326.5,520.89 324.9,520.65 323.3,520.41 321.7,520.20 320.1,520.00" fill="#f9a166"/>
<polyline points="320.1,514.86 321.7,515.11 323.3,515.37 324.9,515.65 326.5,515.96 328.1,516.27 329.7,516.61 331.3,516.95 332.9,517.30 334.5,517.66 336.1,518.02 337.7,518.36 339.3,518.67 340.9,518.98 342.5,519.29 344.1,519.58 345.7,519.86 347.3,520.13 348.9,520.38 350.5,520.61 352.1,520.82 353.7,521.01" fill="none" stroke="#231f20" stroke-width="1.05"/>
<polyline points="320.1,520.00 321.7,520.20 323.3,520.41 324.9,520.65 326.5,520.89 328.1,521.15 329.7,521.42 331.3,521.70 332.9,521.99 334.5,522.28 336.1,522.57 337.7,522.92 339.3,523.31 340.9,523.69 342.5,524.07 344.1,524.43 345.7,524.78 347.3,525.11 348.9,525.42 350.5,525.71 352.1,525.97 353.7,526.20" fill="none" stroke="#231f20" stroke-width="1.05"/>
<line x1="227.20" y1="543.50" x2="237.20" y2="543.50" stroke="#231f20" stroke-width="1.1"/>
<line x1="227.20" y1="550.50" x2="237.20" y2="550.50" stroke="#231f20" stroke-width="1.1"/>
<line x1="431.20" y1="543.50" x2="442.00" y2="543.50" stroke="#231f20" stroke-width="1.1"/>
<line x1="431.20" y1="550.50" x2="442.00" y2="550.50" stroke="#231f20" stroke-width="1.1"/>
<polygon points="237.2,548.22 257.2,548.22 258.0,548.21 259.6,548.11 261.2,547.93 262.9,547.68 264.5,547.38 266.1,547.02 267.7,546.64 269.3,546.23 270.9,545.80 272.5,545.38 274.1,544.98 275.7,544.60 277.3,544.24 278.9,543.88 280.5,543.52 282.1,543.17 283.7,542.82 285.3,542.48 286.9,542.16 288.5,541.85 290.1,541.56 291.7,541.29 293.3,541.04 294.9,540.81 296.5,540.61 298.1,540.44 299.7,540.29 301.3,540.17 302.9,540.08 304.5,540.01 306.1,539.98 307.7,539.98 309.3,540.01 311.0,540.07 312.6,540.17 314.2,540.28 315.8,540.43 317.4,540.61 319.0,540.81 320.6,541.04 322.2,541.29 323.8,541.56 325.4,541.85 327.0,542.16 328.6,542.48 330.2,542.81 331.8,543.16 333.4,543.51 335.0,543.87 336.6,544.24 338.2,544.56 339.8,544.88 341.4,545.19 343.0,545.49 344.6,545.78 346.2,546.06 347.8,546.32 349.4,546.56 351.0,546.79 352.6,546.99 354.2,547.17 355.8,547.32 357.4,547.44 359.1,547.54 360.7,547.61 362.3,547.65 363.9,547.66 365.5,547.64 367.1,547.59 368.7,547.51 370.3,547.40 371.9,547.27 373.5,547.10 375.1,546.92 376.7,546.71 378.3,546.47 379.9,546.22 381.5,545.95 383.1,545.67 384.7,545.38 386.3,545.07 387.9,544.76 389.5,544.44 391.1,544.10 392.7,543.73 394.3,543.35 395.9,542.96 397.5,542.58 399.1,542.22 400.7,541.88 402.3,541.56 403.9,541.29 405.5,541.06 407.2,540.89 408.8,540.78 410.4,540.74 410.4,540.74 431.2,540.74 431.2,545.26 410.4,545.26 410.4,545.26 408.8,545.30 407.2,545.41 405.5,545.58 403.9,545.81 402.3,546.08 400.7,546.40 399.1,546.74 397.5,547.10 395.9,547.48 394.3,547.87 392.7,548.25 391.1,548.62 389.5,549.00 387.9,549.39 386.3,549.77 384.7,550.15 383.1,550.52 381.5,550.87 379.9,551.20 378.3,551.51 376.7,551.80 375.1,552.06 373.5,552.29 371.9,552.49 370.3,552.66 368.7,552.79 367.1,552.89 365.5,552.95 363.9,552.98 362.3,552.97 360.7,552.92 359.1,552.83 357.4,552.71 355.8,552.56 354.2,552.37 352.6,552.15 351.0,551.90 349.4,551.62 347.8,551.32 346.2,551.00 344.6,550.65 343.0,550.29 341.4,549.92 339.8,549.53 338.2,549.14 336.6,548.77 335.0,548.47 333.4,548.18 331.8,547.89 330.2,547.61 328.6,547.34 327.0,547.07 325.4,546.82 323.8,546.59 322.2,546.36 320.6,546.16 319.0,545.98 317.4,545.81 315.8,545.67 314.2,545.55 312.6,545.45 311.0,545.38 309.3,545.33 307.7,545.30 306.1,545.30 304.5,545.33 302.9,545.38 301.3,545.45 299.7,545.55 298.1,545.67 296.5,545.82 294.9,545.98 293.3,546.17 291.7,546.37 290.1,546.59 288.5,546.83 286.9,547.08 285.3,547.34 283.7,547.61 282.1,547.90 280.5,548.19 278.9,548.48 277.3,548.78 275.7,549.12 274.1,549.50 272.5,549.90 270.9,550.32 269.3,550.75 267.7,551.16 266.1,551.54 264.5,551.90 262.9,552.20 261.2,552.45 259.6,552.63 258.0,552.73 257.2,552.74 237.2,552.74" fill="#dcddde" stroke="#231f20" stroke-width="1.05" stroke-linejoin="miter"/>
<polygon points="237.2,540.74 257.2,540.74 258.0,540.75 259.6,540.84 261.2,540.99 262.9,541.21 264.5,541.49 266.1,541.80 267.7,542.15 269.3,542.52 270.9,542.90 272.5,543.29 274.1,543.66 275.7,544.02 277.3,544.34 278.9,544.63 280.5,544.91 282.1,545.18 283.7,545.45 285.3,545.71 286.9,545.96 288.5,546.20 290.1,546.43 291.7,546.64 293.3,546.83 294.9,547.01 296.5,547.17 298.1,547.31 299.7,547.42 301.3,547.51 302.9,547.59 304.5,547.63 306.1,547.66 307.7,547.66 309.3,547.63 311.0,547.59 312.6,547.52 314.2,547.42 315.8,547.31 317.4,547.17 319.0,547.01 320.6,546.84 322.2,546.64 323.8,546.43 325.4,546.21 327.0,545.97 328.6,545.72 330.2,545.46 331.8,545.19 333.4,544.91 335.0,544.63 336.6,544.35 338.2,543.96 339.8,543.56 341.4,543.16 343.0,542.77 344.6,542.40 346.2,542.04 347.8,541.70 349.4,541.39 351.0,541.10 352.6,540.84 354.2,540.61 355.8,540.42 357.4,540.26 359.1,540.13 360.7,540.04 362.3,539.99 363.9,539.98 365.5,540.01 367.1,540.07 368.7,540.17 370.3,540.31 371.9,540.49 373.5,540.70 375.1,540.94 376.7,541.21 378.3,541.51 379.9,541.83 381.5,542.17 383.1,542.54 384.7,542.92 386.3,543.31 387.9,543.71 389.5,544.12 391.1,544.51 392.7,544.90 394.3,545.32 395.9,545.74 397.5,546.15 399.1,546.56 400.7,546.94 402.3,547.29 403.9,547.60 405.5,547.85 407.2,548.05 408.8,548.17 410.4,548.22 410.4,548.22 431.2,548.22 431.2,552.74 410.4,552.74 410.4,552.74 408.8,552.69 407.2,552.57 405.5,552.37 403.9,552.12 402.3,551.81 400.7,551.46 399.1,551.08 397.5,550.67 395.9,550.26 394.3,549.84 392.7,549.42 391.1,549.03 389.5,548.67 387.9,548.34 386.3,548.01 384.7,547.69 383.1,547.38 381.5,547.09 379.9,546.81 378.3,546.54 376.7,546.30 375.1,546.08 373.5,545.88 371.9,545.71 370.3,545.57 368.7,545.46 367.1,545.37 365.5,545.32 363.9,545.30 362.3,545.31 360.7,545.35 359.1,545.42 357.4,545.53 355.8,545.66 354.2,545.82 352.6,546.00 351.0,546.21 349.4,546.45 347.8,546.70 346.2,546.98 344.6,547.27 343.0,547.58 341.4,547.89 339.8,548.22 338.2,548.55 336.6,548.88 335.0,549.23 333.4,549.58 331.8,549.92 330.2,550.25 328.6,550.57 327.0,550.89 325.4,551.18 323.8,551.46 322.2,551.72 320.6,551.96 319.0,552.18 317.4,552.37 315.8,552.54 314.2,552.69 312.6,552.80 311.0,552.89 309.3,552.95 307.7,552.98 306.1,552.98 304.5,552.95 302.9,552.89 301.3,552.80 299.7,552.68 298.1,552.54 296.5,552.37 294.9,552.18 293.3,551.96 291.7,551.72 290.1,551.46 288.5,551.18 286.9,550.88 285.3,550.57 283.7,550.24 282.1,549.91 280.5,549.57 278.9,549.22 277.3,548.87 275.7,548.54 274.1,548.18 272.5,547.81 270.9,547.42 269.3,547.04 267.7,546.67 266.1,546.32 264.5,546.01 262.9,545.73 261.2,545.51 259.6,545.36 258.0,545.27 257.2,545.26 237.2,545.26" fill="#fff" stroke="#231f20" stroke-width="1.05" stroke-linejoin="miter"/>
<path d="M244.2,545.26L248.9,540.74M256.1,545.26L260.7,540.94M267.7,546.68L272.3,543.25M279.7,549.39L284.3,545.55M290.1,551.45L294.7,546.99M301.3,552.80L305.9,547.65M314.1,552.69L318.7,547.04M325.3,551.20L329.9,545.50M339.7,548.24L344.3,542.47M348.9,546.53L353.5,540.71M361.3,545.33L365.9,540.02M374.9,546.05L379.5,541.75M386.1,547.97L390.7,544.41M397.3,550.61L401.9,547.20M406.9,552.54L411.5,548.22M416.5,552.74L421.1,548.22M425.9,552.74L430.6,548.22" stroke="#231f20" stroke-width="1.05" fill="none"/>
<polygon points="320.1,540.96 321.7,541.21 323.3,541.47 324.9,541.75 326.5,542.06 328.1,542.37 329.7,542.71 331.3,543.05 332.9,543.40 334.5,543.76 336.1,544.12 337.7,544.46 339.3,544.77 340.9,545.08 342.5,545.39 344.1,545.68 345.7,545.96 347.3,546.23 348.9,546.48 350.5,546.71 352.1,546.92 353.7,547.11 353.7,552.30 352.1,552.07 350.5,551.81 348.9,551.52 347.3,551.21 345.7,550.88 344.1,550.53 342.5,550.17 340.9,549.79 339.3,549.41 337.7,549.02 336.1,548.67 334.5,548.38 332.9,548.09 331.3,547.80 329.7,547.52 328.1,547.25 326.5,546.99 324.9,546.75 323.3,546.51 321.7,546.30 320.1,546.10" fill="#dcddde"/>
<polyline points="320.1,540.96 321.7,541.21 323.3,541.47 324.9,541.75 326.5,542.06 328.1,542.37 329.7,542.71 331.3,543.05 332.9,543.40 334.5,543.76 336.1,544.12 337.7,544.46 339.3,544.77 340.9,545.08 342.5,545.39 344.1,545.68 345.7,545.96 347.3,546.23 348.9,546.48 350.5,546.71 352.1,546.92 353.7,547.11" fill="none" stroke="#231f20" stroke-width="1.05"/>
<polyline points="320.1,546.10 321.7,546.30 323.3,546.51 324.9,546.75 326.5,546.99 328.1,547.25 329.7,547.52 331.3,547.80 332.9,548.09 334.5,548.38 336.1,548.67 337.7,549.02 339.3,549.41 340.9,549.79 342.5,550.17 344.1,550.53 345.7,550.88 347.3,551.21 348.9,551.52 350.5,551.81 352.1,552.07 353.7,552.30" fill="none" stroke="#231f20" stroke-width="1.05"/>
<path d="M88,83.4 H587.5 M88,344.8 H587.5" stroke="#0f6088" stroke-width="1.2" fill="none"/>
<path d="M610.5,856 H760 M610.5,906.5 H760" stroke="#125c82" stroke-width="2" fill="none"/>
<clipPath id="pc"><polygon points="729.0,875.01 736.9,875.01 736.9,884.09 746.0,884.09 746.0,891.03 736.9,891.03 736.9,900.07 729.0,900.07 729.0,891.03 719.1,891.03 719.1,884.09 729.0,884.09"/></clipPath>
<g clip-path="url(#pc)">
<polygon points="729.0,875.01 736.9,875.01 736.9,884.09 746.0,884.09 746.0,891.03 736.9,891.03 736.9,900.07 729.0,900.07 729.0,891.03 719.1,891.03 719.1,884.09 729.0,884.09" fill="#0d5a82"/>
<polygon points="729.0,875.01 736.9,875.81 736.9,878.50" fill="#6aa3c0"/>
<polygon points="729.0,875.68 736.9,878.68 736.9,881.27 729.0,882.17" fill="#0b4a6e"/>
<polygon points="733.0,879.84 736.6,884.09 729.4,884.09" fill="#0f6f9c"/>
<polygon points="719.1,884.09 720.3,884.09 723.6,891.03 719.1,891.03" fill="#0f6f9c"/>
<polygon points="719.6,884.41 723.8,884.41 723.3,889.69" fill="#6aa3c0"/>
<polygon points="723.9,884.77 729.0,890.58 723.9,890.58" fill="#0a3f5e"/>
<polygon points="724.7,884.41 731.4,884.41 729.5,890.23" fill="#7aaec9"/>
<polygon points="731.4,884.41 736.9,884.41 736.9,886.65 730.1,891.03 729.5,890.23" fill="#0b4a6e"/>
<polygon points="736.9,886.65 736.9,891.03 730.1,891.03" fill="#083a58"/>
<polygon points="736.9,884.77 742.7,890.58 736.9,890.58" fill="#0f6f9c"/>
<polygon points="737.6,884.32 745.4,884.32 742.7,890.05" fill="#6aa3c0"/>
<polygon points="745.6,884.50 746.0,891.03 743.0,891.03" fill="#0a3f5e"/>
<polygon points="729.8,891.12 736.9,891.12 736.9,895.24" fill="#6aa3c0"/>
<polygon points="729.0,891.66 736.4,895.69 729.0,898.51" fill="#0a3f5e"/>
<polygon points="729.0,900.07 736.9,900.07 736.9,896.85" fill="#0f6f9c"/>
</g>
</svg>
<div id="txt">
<div class="ln hdr" id="l0" style="left:87.70px;top:38px;transform:scaleX(0.8318);">Chapter 2&nbsp; Network Media—Copper-Core Cable</div>
<div class="ln pg" id="l1" style="left:775.60px;top:38px;transform:scaleX(0.8134);">57</div>
<div class="ln cap" id="l2" style="left:88.00px;top:90px;transform:scaleX(0.8046);"><b>Figure 2-9</b></div>
<div class="ln cap" id="l3" style="left:152.60px;top:90px;transform:scaleX(0.7273);">Near-end crosstalk (NEXT) is a measurement of crosstalk taken at the near end, or input</div>
<div class="ln cap" id="l4" style="left:88.00px;top:107px;transform:scaleX(0.7135);">end, of a cable.</div>
<div class="ln ttl" id="l5" style="left:277.20px;top:129px;transform:scaleX(0.9807);">NEXT Measurement</div>
<div class="ln lbl" id="l6" style="left:149.80px;top:155px;transform:scaleX(0.9846);">Input signal</div>
<div class="ln lbl" id="l7" style="left:139.10px;top:261px;transform:scaleX(0.9853);">Crosstalk signal</div>
<div class="ln cred" id="l8" style="left:464.50px;top:319px;transform:scaleX(0.9681);">Goodheart-Willcox Publisher</div>
<div class="ln cap" id="l9" style="left:88.00px;top:351px;transform:scaleX(0.8182);"><b>Figure 2-10</b></div>
<div class="ln cap" id="l10" style="left:160.20px;top:351px;transform:scaleX(0.7248);">Far-end crosstalk (FEXT) is a measurement of crosstalk taken at the far end, or output</div>
<div class="ln cap" id="l11" style="left:88.00px;top:368px;transform:scaleX(0.7117);">end, of the cable.</div>
<div class="ln ttl" id="l12" style="left:282.10px;top:390px;transform:scaleX(0.9805);">FEXT Measurement</div>
<div class="ln lbl" id="l13" style="left:114.50px;top:417px;transform:scaleX(0.9882);">Input signal</div>
<div class="ln lbl" id="l14" style="left:487.60px;top:507px;transform:scaleX(0.9956);">Crosstalk signal</div>
<div class="ln cred" id="l15" style="left:464.70px;top:557px;transform:scaleX(0.9681);">Goodheart-Willcox Publisher</div>
<div class="ln body" id="l16" style="left:88.00px;top:583px;transform:scaleX(1.0);word-spacing:1.191px;">a 100-meter length of cable has a FEXT measurement of 45 dB with an attenuation</div>
<div class="ln body" id="l17" style="left:88.00px;top:600px;transform:scaleX(1.0);word-spacing:-0.403px;">measurement of 15 dB, the ELFEXT is calculated to be 30 dB. ELFEXT negates much</div>
<div class="ln body" id="l18" style="left:88.00px;top:618px;transform:scaleX(1.0);word-spacing:2.037px;">of the attenuation by raising the attenuated signal by a value equal to the attenua-</div>
<div class="ln body" id="l19" style="left:88.00px;top:635px;transform:scaleX(1.0);word-spacing:0.456px;">tion. This brings the attenuated signal back to the desired level. This is what the term</div>
<div class="ln body" id="l20" style="left:88.00px;top:652px;transform:scaleX(0.9733);"><i>ELFEXT</i> implies by “equal level.” It equalizes the loss with a gain.</div>
<div class="ln h3" id="l21" style="left:87.70px;top:684px;transform:scaleX(0.8361);">Alien Crosstalk (AXT)</div>
<div class="ln body" id="l22" style="left:88.00px;top:713px;transform:scaleX(1.0);word-spacing:0.784px;"><b>Alien crosstalk (AXT)</b> is a measurement of noise introduced outside the cable jack-</div>
<div class="ln body" id="l23" style="left:88.00px;top:731px;transform:scaleX(1.0);word-spacing:2.077px;">et, typically caused by other network cables in close proximity. This measurement</div>
<div class="ln body" id="l24" style="left:88.00px;top:748px;transform:scaleX(1.0);word-spacing:0.655px;">was first introduced in February 2008 as part of the Category 6a standard because of</div>
<div class="ln body" id="l25" style="left:88.00px;top:765px;transform:scaleX(1.0);word-spacing:0.314px;">the high-frequency capabilities of this cable. Cables that carry high-frequency signals</div>
<div class="ln body" id="l26" style="left:88.00px;top:782px;transform:scaleX(0.9941);">are susceptible to AXT. At lower frequencies, AXT is not a problem.</div>
<div class="ln h2" id="l27" style="left:87.80px;top:816px;transform:scaleX(0.7867);">Copper-Core Cables</div>
<div class="ln body" id="l28" style="left:88.00px;top:854px;transform:scaleX(1.0);word-spacing:1.561px;">Copper-core cables are commonly constructed of a center core of copper surround-</div>
<div class="ln body" id="l29" style="left:88.00px;top:871px;transform:scaleX(1.0);word-spacing:2.209px;">ed by an insulating jacket. All copper-core cables have an AWG rating. An <b>AWG</b></div>
<div class="ln body" id="l30" style="left:88.00px;top:889px;transform:scaleX(1.0);word-spacing:3.257px;"><b>rating</b> describes the size of a conductor’s diameter. The abbreviation AWG rep-</div>
<div class="ln body" id="l31" style="left:88.00px;top:906px;transform:scaleX(1.0);word-spacing:0.737px;">resents American Wire Gauge, which is the accepted standard for specifying the size</div>
<div class="ln body" id="l32" style="left:88.00px;top:924px;transform:scaleX(1.0);word-spacing:-0.155px;">of a conductor. The size of a conductor is expressed as a numeric value such as 22, 20,</div>
<div class="ln body" id="l33" style="left:88.00px;top:941px;transform:scaleX(1.0165);">or 18. The smaller the number, the larger the diameter of the wire.</div>
<div class="ln body" id="l34" style="left:118.30px;top:958px;transform:scaleX(1.0);word-spacing:-0.117px;">Figure 2-11 shows a wire gauge. A wire gauge is used to determine the AWG rat-</div>
<div class="ln body" id="l35" style="left:88.00px;top:976px;transform:scaleX(1.0);word-spacing:0.522px;">ing or the size of a conductor. Notice that the largest wire measurement on the gauge</div>
<div class="ln std" id="l36" style="left:624.90px;top:871px;transform:scaleX(0.7912);">2.1, 2.5</div>
<div class="ln net" id="l37" style="left:724.00px;top:861px;transform:scaleX(0.7125);">NET</div>
<div class="ln copy" id="l38" style="left:87.70px;top:1047px;transform:scaleX(0.9944);">Copyright Goodheart-Willcox Co., Inc.</div>
</div></div></body></html>
